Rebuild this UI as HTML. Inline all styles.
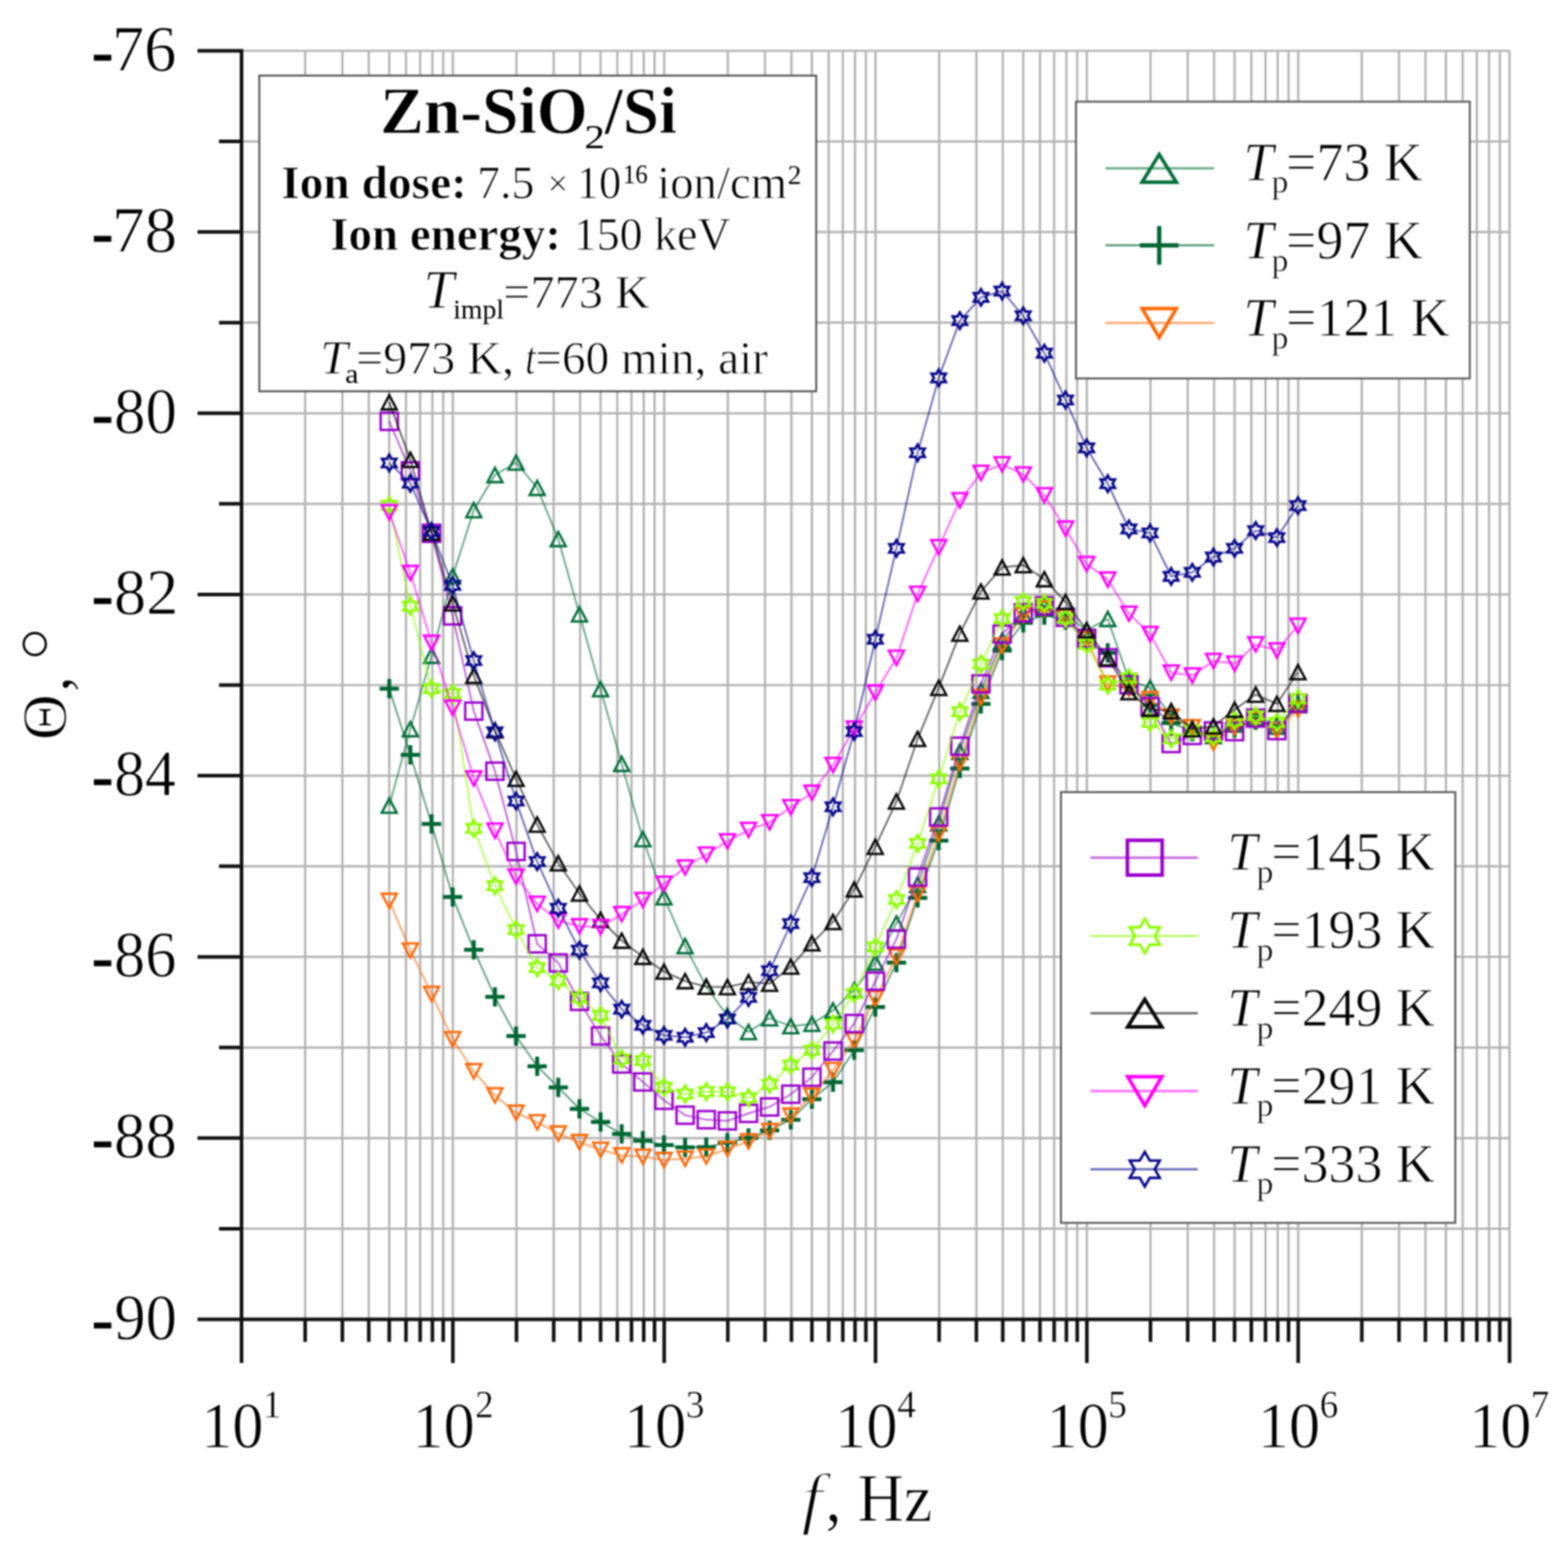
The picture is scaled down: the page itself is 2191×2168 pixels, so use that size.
<!DOCTYPE html>
<html><head><meta charset="utf-8"><title>Zn-SiO2/Si phase angle vs frequency</title>
<style>html,body{margin:0;padding:0;background:#fff;overflow:hidden;} svg{display:block;} #fig{width:2191px;height:2168px;filter:blur(1px);}</style>
</head><body><div id="fig">
<svg width="2191" height="2168" viewBox="0 0 2191 2168">
<rect width="2191" height="2168" fill="#fff"/>
<path d="M426.4,71.0V1843.0M478.4,71.0V1843.0M515.3,71.0V1843.0M543.9,71.0V1843.0M567.3,71.0V1843.0M587.1,71.0V1843.0M604.2,71.0V1843.0M619.3,71.0V1843.0M632.8,71.0V1843.0M721.7,71.0V1843.0M773.7,71.0V1843.0M810.6,71.0V1843.0M839.2,71.0V1843.0M862.6,71.0V1843.0M882.4,71.0V1843.0M899.5,71.0V1843.0M914.6,71.0V1843.0M928.1,71.0V1843.0M1017.0,71.0V1843.0M1069.0,71.0V1843.0M1105.9,71.0V1843.0M1134.5,71.0V1843.0M1157.9,71.0V1843.0M1177.7,71.0V1843.0M1194.8,71.0V1843.0M1209.9,71.0V1843.0M1223.4,71.0V1843.0M1312.3,71.0V1843.0M1364.3,71.0V1843.0M1401.2,71.0V1843.0M1429.8,71.0V1843.0M1453.2,71.0V1843.0M1473.0,71.0V1843.0M1490.1,71.0V1843.0M1505.2,71.0V1843.0M1518.7,71.0V1843.0M1607.6,71.0V1843.0M1659.6,71.0V1843.0M1696.5,71.0V1843.0M1725.1,71.0V1843.0M1748.5,71.0V1843.0M1768.3,71.0V1843.0M1785.4,71.0V1843.0M1800.5,71.0V1843.0M1814.0,71.0V1843.0M1902.9,71.0V1843.0M1954.9,71.0V1843.0M1991.8,71.0V1843.0M2020.4,71.0V1843.0M2043.8,71.0V1843.0M2063.6,71.0V1843.0M2080.7,71.0V1843.0M2095.8,71.0V1843.0M2109.3,71.0V1843.0M337.5,71.0H2109.3M337.5,197.6H2109.3M337.5,324.1H2109.3M337.5,450.7H2109.3M337.5,577.3H2109.3M337.5,703.8H2109.3M337.5,830.4H2109.3M337.5,957.0H2109.3M337.5,1083.6H2109.3M337.5,1210.1H2109.3M337.5,1336.7H2109.3M337.5,1463.3H2109.3M337.5,1589.8H2109.3M337.5,1716.4H2109.3" stroke="#b4b4b4" stroke-width="3.2" fill="none"/>
<polyline points="543.9,1125.4 573.4,1018.5 603.0,916.0 632.5,805.0 662.0,712.6 691.6,663.5 721.1,646.2 750.6,681.5 780.1,753.0 809.7,858.2 839.2,962.7 868.7,1067.0 898.3,1172.1 927.8,1253.4 957.3,1321.5 986.9,1378.4 1016.4,1418.9 1045.9,1441.6 1075.4,1422.3 1105.0,1433.4 1134.5,1430.2 1164.0,1411.4 1193.6,1383.0 1223.1,1344.7 1252.6,1290.0 1282.2,1236.0 1311.7,1150.0 1341.2,1050.0 1370.7,965.0 1400.3,895.0 1429.8,858.0 1459.3,848.0 1488.9,860.0 1518.4,880.0 1547.9,864.5 1577.5,950.0 1607.0,960.7 1636.5,1000.0 1666.0,1018.0 1695.6,1028.0 1725.1,1012.0 1754.6,1003.0 1784.2,1015.0 1813.7,985.0" fill="none" stroke="#05703c" stroke-opacity="0.6" stroke-width="2.5" stroke-linejoin="round"/>
<g><polygon points="543.9,1115.4 554.4,1135.4 533.4,1135.4" fill="none" stroke="#05703c" stroke-width="3.3" stroke-linejoin="miter"/><polygon points="573.4,1008.5 583.9,1028.5 562.9,1028.5" fill="none" stroke="#05703c" stroke-width="3.3" stroke-linejoin="miter"/><polygon points="603.0,906.0 613.5,926.0 592.5,926.0" fill="none" stroke="#05703c" stroke-width="3.3" stroke-linejoin="miter"/><polygon points="632.5,795.0 643.0,815.0 622.0,815.0" fill="none" stroke="#05703c" stroke-width="3.3" stroke-linejoin="miter"/><polygon points="662.0,702.6 672.5,722.6 651.5,722.6" fill="none" stroke="#05703c" stroke-width="3.3" stroke-linejoin="miter"/><polygon points="691.6,653.5 702.1,673.5 681.1,673.5" fill="none" stroke="#05703c" stroke-width="3.3" stroke-linejoin="miter"/><polygon points="721.1,636.2 731.6,656.2 710.6,656.2" fill="none" stroke="#05703c" stroke-width="3.3" stroke-linejoin="miter"/><polygon points="750.6,671.5 761.1,691.5 740.1,691.5" fill="none" stroke="#05703c" stroke-width="3.3" stroke-linejoin="miter"/><polygon points="780.1,743.0 790.6,763.0 769.6,763.0" fill="none" stroke="#05703c" stroke-width="3.3" stroke-linejoin="miter"/><polygon points="809.7,848.2 820.2,868.2 799.2,868.2" fill="none" stroke="#05703c" stroke-width="3.3" stroke-linejoin="miter"/><polygon points="839.2,952.7 849.7,972.7 828.7,972.7" fill="none" stroke="#05703c" stroke-width="3.3" stroke-linejoin="miter"/><polygon points="868.7,1057.0 879.2,1077.0 858.2,1077.0" fill="none" stroke="#05703c" stroke-width="3.3" stroke-linejoin="miter"/><polygon points="898.3,1162.1 908.8,1182.1 887.8,1182.1" fill="none" stroke="#05703c" stroke-width="3.3" stroke-linejoin="miter"/><polygon points="927.8,1243.4 938.3,1263.4 917.3,1263.4" fill="none" stroke="#05703c" stroke-width="3.3" stroke-linejoin="miter"/><polygon points="957.3,1311.5 967.8,1331.5 946.8,1331.5" fill="none" stroke="#05703c" stroke-width="3.3" stroke-linejoin="miter"/><polygon points="986.9,1368.4 997.4,1388.4 976.4,1388.4" fill="none" stroke="#05703c" stroke-width="3.3" stroke-linejoin="miter"/><polygon points="1016.4,1408.9 1026.9,1428.9 1005.9,1428.9" fill="none" stroke="#05703c" stroke-width="3.3" stroke-linejoin="miter"/><polygon points="1045.9,1431.6 1056.4,1451.6 1035.4,1451.6" fill="none" stroke="#05703c" stroke-width="3.3" stroke-linejoin="miter"/><polygon points="1075.4,1412.3 1085.9,1432.3 1064.9,1432.3" fill="none" stroke="#05703c" stroke-width="3.3" stroke-linejoin="miter"/><polygon points="1105.0,1423.4 1115.5,1443.4 1094.5,1443.4" fill="none" stroke="#05703c" stroke-width="3.3" stroke-linejoin="miter"/><polygon points="1134.5,1420.2 1145.0,1440.2 1124.0,1440.2" fill="none" stroke="#05703c" stroke-width="3.3" stroke-linejoin="miter"/><polygon points="1164.0,1401.4 1174.5,1421.4 1153.5,1421.4" fill="none" stroke="#05703c" stroke-width="3.3" stroke-linejoin="miter"/><polygon points="1193.6,1373.0 1204.1,1393.0 1183.1,1393.0" fill="none" stroke="#05703c" stroke-width="3.3" stroke-linejoin="miter"/><polygon points="1223.1,1334.7 1233.6,1354.7 1212.6,1354.7" fill="none" stroke="#05703c" stroke-width="3.3" stroke-linejoin="miter"/><polygon points="1252.6,1280.0 1263.1,1300.0 1242.1,1300.0" fill="none" stroke="#05703c" stroke-width="3.3" stroke-linejoin="miter"/><polygon points="1282.2,1226.0 1292.7,1246.0 1271.7,1246.0" fill="none" stroke="#05703c" stroke-width="3.3" stroke-linejoin="miter"/><polygon points="1311.7,1140.0 1322.2,1160.0 1301.2,1160.0" fill="none" stroke="#05703c" stroke-width="3.3" stroke-linejoin="miter"/><polygon points="1341.2,1040.0 1351.7,1060.0 1330.7,1060.0" fill="none" stroke="#05703c" stroke-width="3.3" stroke-linejoin="miter"/><polygon points="1370.7,955.0 1381.2,975.0 1360.2,975.0" fill="none" stroke="#05703c" stroke-width="3.3" stroke-linejoin="miter"/><polygon points="1400.3,885.0 1410.8,905.0 1389.8,905.0" fill="none" stroke="#05703c" stroke-width="3.3" stroke-linejoin="miter"/><polygon points="1429.8,848.0 1440.3,868.0 1419.3,868.0" fill="none" stroke="#05703c" stroke-width="3.3" stroke-linejoin="miter"/><polygon points="1459.3,838.0 1469.8,858.0 1448.8,858.0" fill="none" stroke="#05703c" stroke-width="3.3" stroke-linejoin="miter"/><polygon points="1488.9,850.0 1499.4,870.0 1478.4,870.0" fill="none" stroke="#05703c" stroke-width="3.3" stroke-linejoin="miter"/><polygon points="1518.4,870.0 1528.9,890.0 1507.9,890.0" fill="none" stroke="#05703c" stroke-width="3.3" stroke-linejoin="miter"/><polygon points="1547.9,854.5 1558.4,874.5 1537.4,874.5" fill="none" stroke="#05703c" stroke-width="3.3" stroke-linejoin="miter"/><polygon points="1577.5,940.0 1588.0,960.0 1567.0,960.0" fill="none" stroke="#05703c" stroke-width="3.3" stroke-linejoin="miter"/><polygon points="1607.0,950.7 1617.5,970.7 1596.5,970.7" fill="none" stroke="#05703c" stroke-width="3.3" stroke-linejoin="miter"/><polygon points="1636.5,990.0 1647.0,1010.0 1626.0,1010.0" fill="none" stroke="#05703c" stroke-width="3.3" stroke-linejoin="miter"/><polygon points="1666.0,1008.0 1676.5,1028.0 1655.5,1028.0" fill="none" stroke="#05703c" stroke-width="3.3" stroke-linejoin="miter"/><polygon points="1695.6,1018.0 1706.1,1038.0 1685.1,1038.0" fill="none" stroke="#05703c" stroke-width="3.3" stroke-linejoin="miter"/><polygon points="1725.1,1002.0 1735.6,1022.0 1714.6,1022.0" fill="none" stroke="#05703c" stroke-width="3.3" stroke-linejoin="miter"/><polygon points="1754.6,993.0 1765.1,1013.0 1744.1,1013.0" fill="none" stroke="#05703c" stroke-width="3.3" stroke-linejoin="miter"/><polygon points="1784.2,1005.0 1794.7,1025.0 1773.7,1025.0" fill="none" stroke="#05703c" stroke-width="3.3" stroke-linejoin="miter"/><polygon points="1813.7,975.0 1824.2,995.0 1803.2,995.0" fill="none" stroke="#05703c" stroke-width="3.3" stroke-linejoin="miter"/></g>
<polyline points="543.9,962.0 573.4,1054.6 603.0,1151.0 632.5,1253.0 662.0,1326.7 691.6,1392.6 721.1,1447.2 750.6,1489.4 780.1,1518.9 809.7,1549.0 839.2,1567.3 868.7,1584.1 898.3,1593.5 927.8,1599.6 957.3,1602.8 986.9,1602.4 1016.4,1596.0 1045.9,1589.7 1075.4,1579.0 1105.0,1564.2 1134.5,1535.4 1164.0,1511.8 1193.6,1467.1 1223.1,1406.7 1252.6,1344.7 1282.2,1254.2 1311.7,1174.2 1341.2,1073.4 1370.7,983.2 1400.3,908.7 1429.8,870.0 1459.3,859.2 1488.9,866.0 1518.4,896.0 1547.9,912.0 1577.5,958.0 1607.0,985.0 1636.5,1010.0 1666.0,1022.0 1695.6,1028.0 1725.1,1017.0 1754.6,1006.0 1784.2,1016.0 1813.7,986.0" fill="none" stroke="#006633" stroke-opacity="0.6" stroke-width="2.5" stroke-linejoin="round"/>
<g><path d="M530.4,962.0H557.4M543.9,948.5V975.5" stroke="#006633" stroke-width="5.5"/><path d="M559.9,1054.6H586.9M573.4,1041.1V1068.1" stroke="#006633" stroke-width="5.5"/><path d="M589.5,1151.0H616.5M603.0,1137.5V1164.5" stroke="#006633" stroke-width="5.5"/><path d="M619.0,1253.0H646.0M632.5,1239.5V1266.5" stroke="#006633" stroke-width="5.5"/><path d="M648.5,1326.7H675.5M662.0,1313.2V1340.2" stroke="#006633" stroke-width="5.5"/><path d="M678.1,1392.6H705.1M691.6,1379.1V1406.1" stroke="#006633" stroke-width="5.5"/><path d="M707.6,1447.2H734.6M721.1,1433.7V1460.7" stroke="#006633" stroke-width="5.5"/><path d="M737.1,1489.4H764.1M750.6,1475.9V1502.9" stroke="#006633" stroke-width="5.5"/><path d="M766.6,1518.9H793.6M780.1,1505.4V1532.4" stroke="#006633" stroke-width="5.5"/><path d="M796.2,1549.0H823.2M809.7,1535.5V1562.5" stroke="#006633" stroke-width="5.5"/><path d="M825.7,1567.3H852.7M839.2,1553.8V1580.8" stroke="#006633" stroke-width="5.5"/><path d="M855.2,1584.1H882.2M868.7,1570.6V1597.6" stroke="#006633" stroke-width="5.5"/><path d="M884.8,1593.5H911.8M898.3,1580.0V1607.0" stroke="#006633" stroke-width="5.5"/><path d="M914.3,1599.6H941.3M927.8,1586.1V1613.1" stroke="#006633" stroke-width="5.5"/><path d="M943.8,1602.8H970.8M957.3,1589.3V1616.3" stroke="#006633" stroke-width="5.5"/><path d="M973.4,1602.4H1000.4M986.9,1588.9V1615.9" stroke="#006633" stroke-width="5.5"/><path d="M1002.9,1596.0H1029.9M1016.4,1582.5V1609.5" stroke="#006633" stroke-width="5.5"/><path d="M1032.4,1589.7H1059.4M1045.9,1576.2V1603.2" stroke="#006633" stroke-width="5.5"/><path d="M1061.9,1579.0H1088.9M1075.4,1565.5V1592.5" stroke="#006633" stroke-width="5.5"/><path d="M1091.5,1564.2H1118.5M1105.0,1550.7V1577.7" stroke="#006633" stroke-width="5.5"/><path d="M1121.0,1535.4H1148.0M1134.5,1521.9V1548.9" stroke="#006633" stroke-width="5.5"/><path d="M1150.5,1511.8H1177.5M1164.0,1498.3V1525.3" stroke="#006633" stroke-width="5.5"/><path d="M1180.1,1467.1H1207.1M1193.6,1453.6V1480.6" stroke="#006633" stroke-width="5.5"/><path d="M1209.6,1406.7H1236.6M1223.1,1393.2V1420.2" stroke="#006633" stroke-width="5.5"/><path d="M1239.1,1344.7H1266.1M1252.6,1331.2V1358.2" stroke="#006633" stroke-width="5.5"/><path d="M1268.7,1254.2H1295.7M1282.2,1240.7V1267.7" stroke="#006633" stroke-width="5.5"/><path d="M1298.2,1174.2H1325.2M1311.7,1160.7V1187.7" stroke="#006633" stroke-width="5.5"/><path d="M1327.7,1073.4H1354.7M1341.2,1059.9V1086.9" stroke="#006633" stroke-width="5.5"/><path d="M1357.2,983.2H1384.2M1370.7,969.7V996.7" stroke="#006633" stroke-width="5.5"/><path d="M1386.8,908.7H1413.8M1400.3,895.2V922.2" stroke="#006633" stroke-width="5.5"/><path d="M1416.3,870.0H1443.3M1429.8,856.5V883.5" stroke="#006633" stroke-width="5.5"/><path d="M1445.8,859.2H1472.8M1459.3,845.7V872.7" stroke="#006633" stroke-width="5.5"/><path d="M1475.4,866.0H1502.4M1488.9,852.5V879.5" stroke="#006633" stroke-width="5.5"/><path d="M1504.9,896.0H1531.9M1518.4,882.5V909.5" stroke="#006633" stroke-width="5.5"/><path d="M1534.4,912.0H1561.4M1547.9,898.5V925.5" stroke="#006633" stroke-width="5.5"/><path d="M1564.0,958.0H1591.0M1577.5,944.5V971.5" stroke="#006633" stroke-width="5.5"/><path d="M1593.5,985.0H1620.5M1607.0,971.5V998.5" stroke="#006633" stroke-width="5.5"/><path d="M1623.0,1010.0H1650.0M1636.5,996.5V1023.5" stroke="#006633" stroke-width="5.5"/><path d="M1652.5,1022.0H1679.5M1666.0,1008.5V1035.5" stroke="#006633" stroke-width="5.5"/><path d="M1682.1,1028.0H1709.1M1695.6,1014.5V1041.5" stroke="#006633" stroke-width="5.5"/><path d="M1711.6,1017.0H1738.6M1725.1,1003.5V1030.5" stroke="#006633" stroke-width="5.5"/><path d="M1741.1,1006.0H1768.1M1754.6,992.5V1019.5" stroke="#006633" stroke-width="5.5"/><path d="M1770.7,1016.0H1797.7M1784.2,1002.5V1029.5" stroke="#006633" stroke-width="5.5"/><path d="M1800.2,986.0H1827.2M1813.7,972.5V999.5" stroke="#006633" stroke-width="5.5"/></g>
<polyline points="543.9,1258.5 573.4,1327.8 603.0,1388.3 632.5,1451.7 662.0,1496.4 691.6,1530.2 721.1,1554.5 750.6,1567.8 780.1,1583.5 809.7,1595.5 839.2,1606.2 868.7,1614.0 898.3,1615.8 927.8,1620.5 957.3,1618.6 986.9,1615.5 1016.4,1605.0 1045.9,1594.5 1075.4,1580.0 1105.0,1558.5 1134.5,1530.7 1164.0,1494.9 1193.6,1453.0 1223.1,1394.5 1252.6,1336.4 1282.2,1248.7 1311.7,1164.3 1341.2,1065.1 1370.7,974.0 1400.3,901.6 1429.8,859.0 1459.3,850.0 1488.9,862.0 1518.4,893.0 1547.9,955.0 1577.5,962.0 1607.0,976.5 1636.5,1001.1 1666.0,1016.0 1695.6,1037.4 1725.1,1016.0 1754.6,1005.0 1784.2,1020.0 1813.7,991.0" fill="none" stroke="#ff6a0a" stroke-opacity="0.6" stroke-width="2.5" stroke-linejoin="round"/>
<g><polygon points="533.4,1248.5 554.4,1248.5 543.9,1268.5" fill="none" stroke="#ff6a0a" stroke-width="3.3"/><polygon points="562.9,1317.8 583.9,1317.8 573.4,1337.8" fill="none" stroke="#ff6a0a" stroke-width="3.3"/><polygon points="592.5,1378.3 613.5,1378.3 603.0,1398.3" fill="none" stroke="#ff6a0a" stroke-width="3.3"/><polygon points="622.0,1441.7 643.0,1441.7 632.5,1461.7" fill="none" stroke="#ff6a0a" stroke-width="3.3"/><polygon points="651.5,1486.4 672.5,1486.4 662.0,1506.4" fill="none" stroke="#ff6a0a" stroke-width="3.3"/><polygon points="681.1,1520.2 702.1,1520.2 691.6,1540.2" fill="none" stroke="#ff6a0a" stroke-width="3.3"/><polygon points="710.6,1544.5 731.6,1544.5 721.1,1564.5" fill="none" stroke="#ff6a0a" stroke-width="3.3"/><polygon points="740.1,1557.8 761.1,1557.8 750.6,1577.8" fill="none" stroke="#ff6a0a" stroke-width="3.3"/><polygon points="769.6,1573.5 790.6,1573.5 780.1,1593.5" fill="none" stroke="#ff6a0a" stroke-width="3.3"/><polygon points="799.2,1585.5 820.2,1585.5 809.7,1605.5" fill="none" stroke="#ff6a0a" stroke-width="3.3"/><polygon points="828.7,1596.2 849.7,1596.2 839.2,1616.2" fill="none" stroke="#ff6a0a" stroke-width="3.3"/><polygon points="858.2,1604.0 879.2,1604.0 868.7,1624.0" fill="none" stroke="#ff6a0a" stroke-width="3.3"/><polygon points="887.8,1605.8 908.8,1605.8 898.3,1625.8" fill="none" stroke="#ff6a0a" stroke-width="3.3"/><polygon points="917.3,1610.5 938.3,1610.5 927.8,1630.5" fill="none" stroke="#ff6a0a" stroke-width="3.3"/><polygon points="946.8,1608.6 967.8,1608.6 957.3,1628.6" fill="none" stroke="#ff6a0a" stroke-width="3.3"/><polygon points="976.4,1605.5 997.4,1605.5 986.9,1625.5" fill="none" stroke="#ff6a0a" stroke-width="3.3"/><polygon points="1005.9,1595.0 1026.9,1595.0 1016.4,1615.0" fill="none" stroke="#ff6a0a" stroke-width="3.3"/><polygon points="1035.4,1584.5 1056.4,1584.5 1045.9,1604.5" fill="none" stroke="#ff6a0a" stroke-width="3.3"/><polygon points="1064.9,1570.0 1085.9,1570.0 1075.4,1590.0" fill="none" stroke="#ff6a0a" stroke-width="3.3"/><polygon points="1094.5,1548.5 1115.5,1548.5 1105.0,1568.5" fill="none" stroke="#ff6a0a" stroke-width="3.3"/><polygon points="1124.0,1520.7 1145.0,1520.7 1134.5,1540.7" fill="none" stroke="#ff6a0a" stroke-width="3.3"/><polygon points="1153.5,1484.9 1174.5,1484.9 1164.0,1504.9" fill="none" stroke="#ff6a0a" stroke-width="3.3"/><polygon points="1183.1,1443.0 1204.1,1443.0 1193.6,1463.0" fill="none" stroke="#ff6a0a" stroke-width="3.3"/><polygon points="1212.6,1384.5 1233.6,1384.5 1223.1,1404.5" fill="none" stroke="#ff6a0a" stroke-width="3.3"/><polygon points="1242.1,1326.4 1263.1,1326.4 1252.6,1346.4" fill="none" stroke="#ff6a0a" stroke-width="3.3"/><polygon points="1271.7,1238.7 1292.7,1238.7 1282.2,1258.7" fill="none" stroke="#ff6a0a" stroke-width="3.3"/><polygon points="1301.2,1154.3 1322.2,1154.3 1311.7,1174.3" fill="none" stroke="#ff6a0a" stroke-width="3.3"/><polygon points="1330.7,1055.1 1351.7,1055.1 1341.2,1075.1" fill="none" stroke="#ff6a0a" stroke-width="3.3"/><polygon points="1360.2,964.0 1381.2,964.0 1370.7,984.0" fill="none" stroke="#ff6a0a" stroke-width="3.3"/><polygon points="1389.8,891.6 1410.8,891.6 1400.3,911.6" fill="none" stroke="#ff6a0a" stroke-width="3.3"/><polygon points="1419.3,849.0 1440.3,849.0 1429.8,869.0" fill="none" stroke="#ff6a0a" stroke-width="3.3"/><polygon points="1448.8,840.0 1469.8,840.0 1459.3,860.0" fill="none" stroke="#ff6a0a" stroke-width="3.3"/><polygon points="1478.4,852.0 1499.4,852.0 1488.9,872.0" fill="none" stroke="#ff6a0a" stroke-width="3.3"/><polygon points="1507.9,883.0 1528.9,883.0 1518.4,903.0" fill="none" stroke="#ff6a0a" stroke-width="3.3"/><polygon points="1537.4,945.0 1558.4,945.0 1547.9,965.0" fill="none" stroke="#ff6a0a" stroke-width="3.3"/><polygon points="1567.0,952.0 1588.0,952.0 1577.5,972.0" fill="none" stroke="#ff6a0a" stroke-width="3.3"/><polygon points="1596.5,966.5 1617.5,966.5 1607.0,986.5" fill="none" stroke="#ff6a0a" stroke-width="3.3"/><polygon points="1626.0,991.1 1647.0,991.1 1636.5,1011.1" fill="none" stroke="#ff6a0a" stroke-width="3.3"/><polygon points="1655.5,1006.0 1676.5,1006.0 1666.0,1026.0" fill="none" stroke="#ff6a0a" stroke-width="3.3"/><polygon points="1685.1,1027.4 1706.1,1027.4 1695.6,1047.4" fill="none" stroke="#ff6a0a" stroke-width="3.3"/><polygon points="1714.6,1006.0 1735.6,1006.0 1725.1,1026.0" fill="none" stroke="#ff6a0a" stroke-width="3.3"/><polygon points="1744.1,995.0 1765.1,995.0 1754.6,1015.0" fill="none" stroke="#ff6a0a" stroke-width="3.3"/><polygon points="1773.7,1010.0 1794.7,1010.0 1784.2,1030.0" fill="none" stroke="#ff6a0a" stroke-width="3.3"/><polygon points="1803.2,981.0 1824.2,981.0 1813.7,1001.0" fill="none" stroke="#ff6a0a" stroke-width="3.3"/></g>
<polyline points="543.9,588.6 573.4,657.7 603.0,745.0 632.5,860.3 662.0,993.4 691.6,1077.3 721.1,1189.4 750.6,1318.4 780.1,1345.1 809.7,1398.8 839.2,1447.1 868.7,1486.3 898.3,1511.4 927.8,1537.0 957.3,1557.8 986.9,1564.1 1016.4,1565.8 1045.9,1555.3 1075.4,1546.3 1105.0,1528.5 1134.5,1504.8 1164.0,1468.2 1193.6,1429.8 1223.1,1370.6 1252.6,1311.8 1282.2,1225.2 1311.7,1141.2 1341.2,1042.4 1370.7,955.3 1400.3,885.9 1429.8,856.1 1459.3,846.2 1488.9,862.4 1518.4,891.7 1547.9,918.9 1577.5,956.5 1607.0,987.0 1636.5,1038.6 1666.0,1027.4 1695.6,1021.0 1725.1,1022.0 1754.6,1003.1 1784.2,1020.6 1813.7,982.3" fill="none" stroke="#9a00cc" stroke-opacity="0.6" stroke-width="2.5" stroke-linejoin="round"/>
<g><rect x="531.9" y="576.6" width="24.0" height="24.0" fill="none" stroke="#9a00cc" stroke-width="3.3"/><rect x="561.4" y="645.7" width="24.0" height="24.0" fill="none" stroke="#9a00cc" stroke-width="3.3"/><rect x="591.0" y="733.0" width="24.0" height="24.0" fill="none" stroke="#9a00cc" stroke-width="3.3"/><rect x="620.5" y="848.3" width="24.0" height="24.0" fill="none" stroke="#9a00cc" stroke-width="3.3"/><rect x="650.0" y="981.4" width="24.0" height="24.0" fill="none" stroke="#9a00cc" stroke-width="3.3"/><rect x="679.6" y="1065.3" width="24.0" height="24.0" fill="none" stroke="#9a00cc" stroke-width="3.3"/><rect x="709.1" y="1177.4" width="24.0" height="24.0" fill="none" stroke="#9a00cc" stroke-width="3.3"/><rect x="738.6" y="1306.4" width="24.0" height="24.0" fill="none" stroke="#9a00cc" stroke-width="3.3"/><rect x="768.1" y="1333.1" width="24.0" height="24.0" fill="none" stroke="#9a00cc" stroke-width="3.3"/><rect x="797.7" y="1386.8" width="24.0" height="24.0" fill="none" stroke="#9a00cc" stroke-width="3.3"/><rect x="827.2" y="1435.1" width="24.0" height="24.0" fill="none" stroke="#9a00cc" stroke-width="3.3"/><rect x="856.7" y="1474.3" width="24.0" height="24.0" fill="none" stroke="#9a00cc" stroke-width="3.3"/><rect x="886.3" y="1499.4" width="24.0" height="24.0" fill="none" stroke="#9a00cc" stroke-width="3.3"/><rect x="915.8" y="1525.0" width="24.0" height="24.0" fill="none" stroke="#9a00cc" stroke-width="3.3"/><rect x="945.3" y="1545.8" width="24.0" height="24.0" fill="none" stroke="#9a00cc" stroke-width="3.3"/><rect x="974.9" y="1552.1" width="24.0" height="24.0" fill="none" stroke="#9a00cc" stroke-width="3.3"/><rect x="1004.4" y="1553.8" width="24.0" height="24.0" fill="none" stroke="#9a00cc" stroke-width="3.3"/><rect x="1033.9" y="1543.3" width="24.0" height="24.0" fill="none" stroke="#9a00cc" stroke-width="3.3"/><rect x="1063.4" y="1534.3" width="24.0" height="24.0" fill="none" stroke="#9a00cc" stroke-width="3.3"/><rect x="1093.0" y="1516.5" width="24.0" height="24.0" fill="none" stroke="#9a00cc" stroke-width="3.3"/><rect x="1122.5" y="1492.8" width="24.0" height="24.0" fill="none" stroke="#9a00cc" stroke-width="3.3"/><rect x="1152.0" y="1456.2" width="24.0" height="24.0" fill="none" stroke="#9a00cc" stroke-width="3.3"/><rect x="1181.6" y="1417.8" width="24.0" height="24.0" fill="none" stroke="#9a00cc" stroke-width="3.3"/><rect x="1211.1" y="1358.6" width="24.0" height="24.0" fill="none" stroke="#9a00cc" stroke-width="3.3"/><rect x="1240.6" y="1299.8" width="24.0" height="24.0" fill="none" stroke="#9a00cc" stroke-width="3.3"/><rect x="1270.2" y="1213.2" width="24.0" height="24.0" fill="none" stroke="#9a00cc" stroke-width="3.3"/><rect x="1299.7" y="1129.2" width="24.0" height="24.0" fill="none" stroke="#9a00cc" stroke-width="3.3"/><rect x="1329.2" y="1030.4" width="24.0" height="24.0" fill="none" stroke="#9a00cc" stroke-width="3.3"/><rect x="1358.7" y="943.3" width="24.0" height="24.0" fill="none" stroke="#9a00cc" stroke-width="3.3"/><rect x="1388.3" y="873.9" width="24.0" height="24.0" fill="none" stroke="#9a00cc" stroke-width="3.3"/><rect x="1417.8" y="844.1" width="24.0" height="24.0" fill="none" stroke="#9a00cc" stroke-width="3.3"/><rect x="1447.3" y="834.2" width="24.0" height="24.0" fill="none" stroke="#9a00cc" stroke-width="3.3"/><rect x="1476.9" y="850.4" width="24.0" height="24.0" fill="none" stroke="#9a00cc" stroke-width="3.3"/><rect x="1506.4" y="879.7" width="24.0" height="24.0" fill="none" stroke="#9a00cc" stroke-width="3.3"/><rect x="1535.9" y="906.9" width="24.0" height="24.0" fill="none" stroke="#9a00cc" stroke-width="3.3"/><rect x="1565.5" y="944.5" width="24.0" height="24.0" fill="none" stroke="#9a00cc" stroke-width="3.3"/><rect x="1595.0" y="975.0" width="24.0" height="24.0" fill="none" stroke="#9a00cc" stroke-width="3.3"/><rect x="1624.5" y="1026.6" width="24.0" height="24.0" fill="none" stroke="#9a00cc" stroke-width="3.3"/><rect x="1654.0" y="1015.4" width="24.0" height="24.0" fill="none" stroke="#9a00cc" stroke-width="3.3"/><rect x="1683.6" y="1009.0" width="24.0" height="24.0" fill="none" stroke="#9a00cc" stroke-width="3.3"/><rect x="1713.1" y="1010.0" width="24.0" height="24.0" fill="none" stroke="#9a00cc" stroke-width="3.3"/><rect x="1742.6" y="991.1" width="24.0" height="24.0" fill="none" stroke="#9a00cc" stroke-width="3.3"/><rect x="1772.2" y="1008.6" width="24.0" height="24.0" fill="none" stroke="#9a00cc" stroke-width="3.3"/><rect x="1801.7" y="970.3" width="24.0" height="24.0" fill="none" stroke="#9a00cc" stroke-width="3.3"/></g>
<polyline points="543.9,706.0 573.4,846.7 603.0,962.0 632.5,969.0 662.0,1157.3 691.6,1237.3 721.1,1298.5 750.6,1351.8 780.1,1369.9 809.7,1394.0 839.2,1418.4 868.7,1479.3 898.3,1481.6 927.8,1518.8 957.3,1528.2 986.9,1524.8 1016.4,1525.1 1045.9,1533.4 1075.4,1514.6 1105.0,1487.7 1134.5,1467.1 1164.0,1430.2 1193.6,1387.9 1223.1,1322.8 1252.6,1256.6 1282.2,1178.1 1311.7,1087.9 1341.2,994.2 1370.7,927.5 1400.3,864.2 1429.8,840.4 1459.3,842.8 1488.9,863.5 1518.4,900.0 1547.9,957.0 1577.5,947.0 1607.0,1009.0 1636.5,1032.0 1666.0,1020.0 1695.6,1029.4 1725.1,1006.5 1754.6,999.8 1784.2,1009.2 1813.7,976.2" fill="none" stroke="#8cff00" stroke-opacity="0.6" stroke-width="2.5" stroke-linejoin="round"/>
<g><polygon points="543.9,694.5 547.2,700.2 553.9,700.2 550.5,706.0 553.9,711.8 547.2,711.8 543.9,717.5 540.6,711.8 533.9,711.8 537.3,706.0 533.9,700.2 540.6,700.2" fill="none" stroke="#8cff00" stroke-width="3.6"/><polygon points="573.4,835.2 576.8,841.0 583.4,841.0 580.1,846.7 583.4,852.5 576.8,852.5 573.4,858.2 570.1,852.5 563.5,852.5 566.8,846.7 563.5,841.0 570.1,841.0" fill="none" stroke="#8cff00" stroke-width="3.6"/><polygon points="603.0,950.5 606.3,956.2 612.9,956.2 609.6,962.0 612.9,967.8 606.3,967.8 603.0,973.5 599.6,967.8 593.0,967.8 596.3,962.0 593.0,956.2 599.6,956.2" fill="none" stroke="#8cff00" stroke-width="3.6"/><polygon points="632.5,957.5 635.8,963.2 642.5,963.2 639.1,969.0 642.5,974.8 635.8,974.8 632.5,980.5 629.2,974.8 622.5,974.8 625.9,969.0 622.5,963.2 629.2,963.2" fill="none" stroke="#8cff00" stroke-width="3.6"/><polygon points="662.0,1145.8 665.3,1151.5 672.0,1151.5 668.7,1157.3 672.0,1163.0 665.3,1163.0 662.0,1168.8 658.7,1163.0 652.1,1163.0 655.4,1157.3 652.1,1151.5 658.7,1151.5" fill="none" stroke="#8cff00" stroke-width="3.6"/><polygon points="691.6,1225.8 694.9,1231.5 701.5,1231.5 698.2,1237.3 701.5,1243.0 694.9,1243.0 691.6,1248.8 688.2,1243.0 681.6,1243.0 684.9,1237.3 681.6,1231.5 688.2,1231.5" fill="none" stroke="#8cff00" stroke-width="3.6"/><polygon points="721.1,1287.0 724.4,1292.8 731.0,1292.8 727.7,1298.5 731.0,1304.2 724.4,1304.2 721.1,1310.0 717.8,1304.2 711.1,1304.2 714.4,1298.5 711.1,1292.8 717.8,1292.8" fill="none" stroke="#8cff00" stroke-width="3.6"/><polygon points="750.6,1340.3 753.9,1346.0 760.6,1346.0 757.3,1351.8 760.6,1357.5 753.9,1357.5 750.6,1363.3 747.3,1357.5 740.7,1357.5 744.0,1351.8 740.7,1346.0 747.3,1346.0" fill="none" stroke="#8cff00" stroke-width="3.6"/><polygon points="780.1,1358.4 783.5,1364.2 790.1,1364.2 786.8,1369.9 790.1,1375.7 783.5,1375.7 780.1,1381.4 776.8,1375.7 770.2,1375.7 773.5,1369.9 770.2,1364.2 776.8,1364.2" fill="none" stroke="#8cff00" stroke-width="3.6"/><polygon points="809.7,1382.5 813.0,1388.2 819.6,1388.2 816.3,1394.0 819.6,1399.8 813.0,1399.8 809.7,1405.5 806.4,1399.8 799.7,1399.8 803.0,1394.0 799.7,1388.2 806.4,1388.2" fill="none" stroke="#8cff00" stroke-width="3.6"/><polygon points="839.2,1406.9 842.5,1412.7 849.2,1412.7 845.8,1418.4 849.2,1424.2 842.5,1424.2 839.2,1429.9 835.9,1424.2 829.2,1424.2 832.6,1418.4 829.2,1412.7 835.9,1412.7" fill="none" stroke="#8cff00" stroke-width="3.6"/><polygon points="868.7,1467.8 872.1,1473.5 878.7,1473.5 875.4,1479.3 878.7,1485.0 872.1,1485.0 868.7,1490.8 865.4,1485.0 858.8,1485.0 862.1,1479.3 858.8,1473.5 865.4,1473.5" fill="none" stroke="#8cff00" stroke-width="3.6"/><polygon points="898.3,1470.1 901.6,1475.8 908.2,1475.8 904.9,1481.6 908.2,1487.3 901.6,1487.3 898.3,1493.1 894.9,1487.3 888.3,1487.3 891.6,1481.6 888.3,1475.8 894.9,1475.8" fill="none" stroke="#8cff00" stroke-width="3.6"/><polygon points="927.8,1507.3 931.1,1513.0 937.8,1513.0 934.4,1518.8 937.8,1524.5 931.1,1524.5 927.8,1530.3 924.5,1524.5 917.8,1524.5 921.2,1518.8 917.8,1513.0 924.5,1513.0" fill="none" stroke="#8cff00" stroke-width="3.6"/><polygon points="957.3,1516.7 960.6,1522.5 967.3,1522.5 964.0,1528.2 967.3,1534.0 960.6,1534.0 957.3,1539.7 954.0,1534.0 947.4,1534.0 950.7,1528.2 947.4,1522.5 954.0,1522.5" fill="none" stroke="#8cff00" stroke-width="3.6"/><polygon points="986.9,1513.3 990.2,1519.0 996.8,1519.0 993.5,1524.8 996.8,1530.5 990.2,1530.5 986.9,1536.3 983.5,1530.5 976.9,1530.5 980.2,1524.8 976.9,1519.0 983.5,1519.0" fill="none" stroke="#8cff00" stroke-width="3.6"/><polygon points="1016.4,1513.6 1019.7,1519.3 1026.3,1519.3 1023.0,1525.1 1026.3,1530.8 1019.7,1530.8 1016.4,1536.6 1013.1,1530.8 1006.4,1530.8 1009.7,1525.1 1006.4,1519.3 1013.1,1519.3" fill="none" stroke="#8cff00" stroke-width="3.6"/><polygon points="1045.9,1521.9 1049.2,1527.7 1055.9,1527.7 1052.6,1533.4 1055.9,1539.2 1049.2,1539.2 1045.9,1544.9 1042.6,1539.2 1036.0,1539.2 1039.3,1533.4 1036.0,1527.7 1042.6,1527.7" fill="none" stroke="#8cff00" stroke-width="3.6"/><polygon points="1075.4,1503.1 1078.8,1508.8 1085.4,1508.8 1082.1,1514.6 1085.4,1520.3 1078.8,1520.3 1075.4,1526.1 1072.1,1520.3 1065.5,1520.3 1068.8,1514.6 1065.5,1508.8 1072.1,1508.8" fill="none" stroke="#8cff00" stroke-width="3.6"/><polygon points="1105.0,1476.2 1108.3,1482.0 1114.9,1482.0 1111.6,1487.7 1114.9,1493.5 1108.3,1493.5 1105.0,1499.2 1101.7,1493.5 1095.0,1493.5 1098.3,1487.7 1095.0,1482.0 1101.7,1482.0" fill="none" stroke="#8cff00" stroke-width="3.6"/><polygon points="1134.5,1455.6 1137.8,1461.3 1144.5,1461.3 1141.1,1467.1 1144.5,1472.8 1137.8,1472.8 1134.5,1478.6 1131.2,1472.8 1124.5,1472.8 1127.9,1467.1 1124.5,1461.3 1131.2,1461.3" fill="none" stroke="#8cff00" stroke-width="3.6"/><polygon points="1164.0,1418.7 1167.4,1424.5 1174.0,1424.5 1170.7,1430.2 1174.0,1436.0 1167.4,1436.0 1164.0,1441.7 1160.7,1436.0 1154.1,1436.0 1157.4,1430.2 1154.1,1424.5 1160.7,1424.5" fill="none" stroke="#8cff00" stroke-width="3.6"/><polygon points="1193.6,1376.4 1196.9,1382.2 1203.5,1382.2 1200.2,1387.9 1203.5,1393.7 1196.9,1393.7 1193.6,1399.4 1190.2,1393.7 1183.6,1393.7 1186.9,1387.9 1183.6,1382.2 1190.2,1382.2" fill="none" stroke="#8cff00" stroke-width="3.6"/><polygon points="1223.1,1311.3 1226.4,1317.0 1233.1,1317.0 1229.7,1322.8 1233.1,1328.5 1226.4,1328.5 1223.1,1334.3 1219.8,1328.5 1213.1,1328.5 1216.5,1322.8 1213.1,1317.0 1219.8,1317.0" fill="none" stroke="#8cff00" stroke-width="3.6"/><polygon points="1252.6,1245.1 1255.9,1250.8 1262.6,1250.8 1259.3,1256.6 1262.6,1262.3 1255.9,1262.3 1252.6,1268.1 1249.3,1262.3 1242.7,1262.3 1246.0,1256.6 1242.7,1250.8 1249.3,1250.8" fill="none" stroke="#8cff00" stroke-width="3.6"/><polygon points="1282.2,1166.6 1285.5,1172.3 1292.1,1172.3 1288.8,1178.1 1292.1,1183.8 1285.5,1183.8 1282.2,1189.6 1278.8,1183.8 1272.2,1183.8 1275.5,1178.1 1272.2,1172.3 1278.8,1172.3" fill="none" stroke="#8cff00" stroke-width="3.6"/><polygon points="1311.7,1076.4 1315.0,1082.2 1321.6,1082.2 1318.3,1087.9 1321.6,1093.7 1315.0,1093.7 1311.7,1099.4 1308.4,1093.7 1301.7,1093.7 1305.0,1087.9 1301.7,1082.2 1308.4,1082.2" fill="none" stroke="#8cff00" stroke-width="3.6"/><polygon points="1341.2,982.7 1344.5,988.5 1351.2,988.5 1347.9,994.2 1351.2,1000.0 1344.5,1000.0 1341.2,1005.7 1337.9,1000.0 1331.3,1000.0 1334.6,994.2 1331.3,988.5 1337.9,988.5" fill="none" stroke="#8cff00" stroke-width="3.6"/><polygon points="1370.7,916.0 1374.1,921.8 1380.7,921.8 1377.4,927.5 1380.7,933.2 1374.1,933.2 1370.7,939.0 1367.4,933.2 1360.8,933.2 1364.1,927.5 1360.8,921.8 1367.4,921.8" fill="none" stroke="#8cff00" stroke-width="3.6"/><polygon points="1400.3,852.7 1403.6,858.5 1410.2,858.5 1406.9,864.2 1410.2,870.0 1403.6,870.0 1400.3,875.7 1397.0,870.0 1390.3,870.0 1393.6,864.2 1390.3,858.5 1397.0,858.5" fill="none" stroke="#8cff00" stroke-width="3.6"/><polygon points="1429.8,828.9 1433.1,834.6 1439.8,834.6 1436.4,840.4 1439.8,846.1 1433.1,846.1 1429.8,851.9 1426.5,846.1 1419.8,846.1 1423.2,840.4 1419.8,834.6 1426.5,834.6" fill="none" stroke="#8cff00" stroke-width="3.6"/><polygon points="1459.3,831.3 1462.7,837.0 1469.3,837.0 1466.0,842.8 1469.3,848.5 1462.7,848.5 1459.3,854.3 1456.0,848.5 1449.4,848.5 1452.7,842.8 1449.4,837.0 1456.0,837.0" fill="none" stroke="#8cff00" stroke-width="3.6"/><polygon points="1488.9,852.0 1492.2,857.8 1498.8,857.8 1495.5,863.5 1498.8,869.2 1492.2,869.2 1488.9,875.0 1485.5,869.2 1478.9,869.2 1482.2,863.5 1478.9,857.8 1485.5,857.8" fill="none" stroke="#8cff00" stroke-width="3.6"/><polygon points="1518.4,888.5 1521.7,894.2 1528.4,894.2 1525.0,900.0 1528.4,905.8 1521.7,905.8 1518.4,911.5 1515.1,905.8 1508.4,905.8 1511.8,900.0 1508.4,894.2 1515.1,894.2" fill="none" stroke="#8cff00" stroke-width="3.6"/><polygon points="1547.9,945.5 1551.2,951.2 1557.9,951.2 1554.6,957.0 1557.9,962.8 1551.2,962.8 1547.9,968.5 1544.6,962.8 1538.0,962.8 1541.3,957.0 1538.0,951.2 1544.6,951.2" fill="none" stroke="#8cff00" stroke-width="3.6"/><polygon points="1577.5,935.5 1580.8,941.2 1587.4,941.2 1584.1,947.0 1587.4,952.8 1580.8,952.8 1577.5,958.5 1574.1,952.8 1567.5,952.8 1570.8,947.0 1567.5,941.2 1574.1,941.2" fill="none" stroke="#8cff00" stroke-width="3.6"/><polygon points="1607.0,997.5 1610.3,1003.2 1616.9,1003.2 1613.6,1009.0 1616.9,1014.8 1610.3,1014.8 1607.0,1020.5 1603.7,1014.8 1597.0,1014.8 1600.3,1009.0 1597.0,1003.2 1603.7,1003.2" fill="none" stroke="#8cff00" stroke-width="3.6"/><polygon points="1636.5,1020.5 1639.8,1026.2 1646.5,1026.2 1643.2,1032.0 1646.5,1037.8 1639.8,1037.8 1636.5,1043.5 1633.2,1037.8 1626.6,1037.8 1629.9,1032.0 1626.6,1026.2 1633.2,1026.2" fill="none" stroke="#8cff00" stroke-width="3.6"/><polygon points="1666.0,1008.5 1669.4,1014.2 1676.0,1014.2 1672.7,1020.0 1676.0,1025.8 1669.4,1025.8 1666.0,1031.5 1662.7,1025.8 1656.1,1025.8 1659.4,1020.0 1656.1,1014.2 1662.7,1014.2" fill="none" stroke="#8cff00" stroke-width="3.6"/><polygon points="1695.6,1017.9 1698.9,1023.7 1705.5,1023.7 1702.2,1029.4 1705.5,1035.2 1698.9,1035.2 1695.6,1040.9 1692.3,1035.2 1685.6,1035.2 1688.9,1029.4 1685.6,1023.7 1692.3,1023.7" fill="none" stroke="#8cff00" stroke-width="3.6"/><polygon points="1725.1,995.0 1728.4,1000.8 1735.1,1000.8 1731.7,1006.5 1735.1,1012.2 1728.4,1012.2 1725.1,1018.0 1721.8,1012.2 1715.1,1012.2 1718.5,1006.5 1715.1,1000.8 1721.8,1000.8" fill="none" stroke="#8cff00" stroke-width="3.6"/><polygon points="1754.6,988.3 1758.0,994.0 1764.6,994.0 1761.3,999.8 1764.6,1005.5 1758.0,1005.5 1754.6,1011.3 1751.3,1005.5 1744.7,1005.5 1748.0,999.8 1744.7,994.0 1751.3,994.0" fill="none" stroke="#8cff00" stroke-width="3.6"/><polygon points="1784.2,997.7 1787.5,1003.5 1794.1,1003.5 1790.8,1009.2 1794.1,1015.0 1787.5,1015.0 1784.2,1020.7 1780.8,1015.0 1774.2,1015.0 1777.5,1009.2 1774.2,1003.5 1780.8,1003.5" fill="none" stroke="#8cff00" stroke-width="3.6"/><polygon points="1813.7,964.7 1817.0,970.5 1823.7,970.5 1820.3,976.2 1823.7,982.0 1817.0,982.0 1813.7,987.7 1810.4,982.0 1803.7,982.0 1807.1,976.2 1803.7,970.5 1810.4,970.5" fill="none" stroke="#8cff00" stroke-width="3.6"/></g>
<polyline points="543.9,562.0 573.4,642.3 603.0,744.0 632.5,842.8 662.0,944.0 691.6,1020.0 721.1,1087.9 750.6,1151.8 780.1,1205.9 809.7,1248.1 839.2,1284.8 868.7,1314.0 898.3,1336.5 927.8,1357.2 957.3,1370.5 986.9,1378.4 1016.4,1378.8 1045.9,1372.1 1075.4,1374.1 1105.0,1350.2 1134.5,1317.6 1164.0,1287.9 1193.6,1242.4 1223.1,1182.8 1252.6,1119.6 1282.2,1032.2 1311.7,960.8 1341.2,885.2 1370.7,826.2 1400.3,792.6 1429.8,789.4 1459.3,809.0 1488.9,840.8 1518.4,880.3 1547.9,919.3 1577.5,966.9 1607.0,990.0 1636.5,993.3 1666.0,1018.6 1695.6,1014.6 1725.1,991.3 1754.6,970.3 1784.2,983.2 1813.7,938.9" fill="none" stroke="#0a0a0a" stroke-opacity="0.6" stroke-width="2.5" stroke-linejoin="round"/>
<g><polygon points="543.9,552.0 554.4,572.0 533.4,572.0" fill="none" stroke="#0a0a0a" stroke-width="3.3" stroke-linejoin="miter"/><polygon points="573.4,632.3 583.9,652.3 562.9,652.3" fill="none" stroke="#0a0a0a" stroke-width="3.3" stroke-linejoin="miter"/><polygon points="603.0,734.0 613.5,754.0 592.5,754.0" fill="none" stroke="#0a0a0a" stroke-width="3.3" stroke-linejoin="miter"/><polygon points="632.5,832.8 643.0,852.8 622.0,852.8" fill="none" stroke="#0a0a0a" stroke-width="3.3" stroke-linejoin="miter"/><polygon points="662.0,934.0 672.5,954.0 651.5,954.0" fill="none" stroke="#0a0a0a" stroke-width="3.3" stroke-linejoin="miter"/><polygon points="691.6,1010.0 702.1,1030.0 681.1,1030.0" fill="none" stroke="#0a0a0a" stroke-width="3.3" stroke-linejoin="miter"/><polygon points="721.1,1077.9 731.6,1097.9 710.6,1097.9" fill="none" stroke="#0a0a0a" stroke-width="3.3" stroke-linejoin="miter"/><polygon points="750.6,1141.8 761.1,1161.8 740.1,1161.8" fill="none" stroke="#0a0a0a" stroke-width="3.3" stroke-linejoin="miter"/><polygon points="780.1,1195.9 790.6,1215.9 769.6,1215.9" fill="none" stroke="#0a0a0a" stroke-width="3.3" stroke-linejoin="miter"/><polygon points="809.7,1238.1 820.2,1258.1 799.2,1258.1" fill="none" stroke="#0a0a0a" stroke-width="3.3" stroke-linejoin="miter"/><polygon points="839.2,1274.8 849.7,1294.8 828.7,1294.8" fill="none" stroke="#0a0a0a" stroke-width="3.3" stroke-linejoin="miter"/><polygon points="868.7,1304.0 879.2,1324.0 858.2,1324.0" fill="none" stroke="#0a0a0a" stroke-width="3.3" stroke-linejoin="miter"/><polygon points="898.3,1326.5 908.8,1346.5 887.8,1346.5" fill="none" stroke="#0a0a0a" stroke-width="3.3" stroke-linejoin="miter"/><polygon points="927.8,1347.2 938.3,1367.2 917.3,1367.2" fill="none" stroke="#0a0a0a" stroke-width="3.3" stroke-linejoin="miter"/><polygon points="957.3,1360.5 967.8,1380.5 946.8,1380.5" fill="none" stroke="#0a0a0a" stroke-width="3.3" stroke-linejoin="miter"/><polygon points="986.9,1368.4 997.4,1388.4 976.4,1388.4" fill="none" stroke="#0a0a0a" stroke-width="3.3" stroke-linejoin="miter"/><polygon points="1016.4,1368.8 1026.9,1388.8 1005.9,1388.8" fill="none" stroke="#0a0a0a" stroke-width="3.3" stroke-linejoin="miter"/><polygon points="1045.9,1362.1 1056.4,1382.1 1035.4,1382.1" fill="none" stroke="#0a0a0a" stroke-width="3.3" stroke-linejoin="miter"/><polygon points="1075.4,1364.1 1085.9,1384.1 1064.9,1384.1" fill="none" stroke="#0a0a0a" stroke-width="3.3" stroke-linejoin="miter"/><polygon points="1105.0,1340.2 1115.5,1360.2 1094.5,1360.2" fill="none" stroke="#0a0a0a" stroke-width="3.3" stroke-linejoin="miter"/><polygon points="1134.5,1307.6 1145.0,1327.6 1124.0,1327.6" fill="none" stroke="#0a0a0a" stroke-width="3.3" stroke-linejoin="miter"/><polygon points="1164.0,1277.9 1174.5,1297.9 1153.5,1297.9" fill="none" stroke="#0a0a0a" stroke-width="3.3" stroke-linejoin="miter"/><polygon points="1193.6,1232.4 1204.1,1252.4 1183.1,1252.4" fill="none" stroke="#0a0a0a" stroke-width="3.3" stroke-linejoin="miter"/><polygon points="1223.1,1172.8 1233.6,1192.8 1212.6,1192.8" fill="none" stroke="#0a0a0a" stroke-width="3.3" stroke-linejoin="miter"/><polygon points="1252.6,1109.6 1263.1,1129.6 1242.1,1129.6" fill="none" stroke="#0a0a0a" stroke-width="3.3" stroke-linejoin="miter"/><polygon points="1282.2,1022.2 1292.7,1042.2 1271.7,1042.2" fill="none" stroke="#0a0a0a" stroke-width="3.3" stroke-linejoin="miter"/><polygon points="1311.7,950.8 1322.2,970.8 1301.2,970.8" fill="none" stroke="#0a0a0a" stroke-width="3.3" stroke-linejoin="miter"/><polygon points="1341.2,875.2 1351.7,895.2 1330.7,895.2" fill="none" stroke="#0a0a0a" stroke-width="3.3" stroke-linejoin="miter"/><polygon points="1370.7,816.2 1381.2,836.2 1360.2,836.2" fill="none" stroke="#0a0a0a" stroke-width="3.3" stroke-linejoin="miter"/><polygon points="1400.3,782.6 1410.8,802.6 1389.8,802.6" fill="none" stroke="#0a0a0a" stroke-width="3.3" stroke-linejoin="miter"/><polygon points="1429.8,779.4 1440.3,799.4 1419.3,799.4" fill="none" stroke="#0a0a0a" stroke-width="3.3" stroke-linejoin="miter"/><polygon points="1459.3,799.0 1469.8,819.0 1448.8,819.0" fill="none" stroke="#0a0a0a" stroke-width="3.3" stroke-linejoin="miter"/><polygon points="1488.9,830.8 1499.4,850.8 1478.4,850.8" fill="none" stroke="#0a0a0a" stroke-width="3.3" stroke-linejoin="miter"/><polygon points="1518.4,870.3 1528.9,890.3 1507.9,890.3" fill="none" stroke="#0a0a0a" stroke-width="3.3" stroke-linejoin="miter"/><polygon points="1547.9,909.3 1558.4,929.3 1537.4,929.3" fill="none" stroke="#0a0a0a" stroke-width="3.3" stroke-linejoin="miter"/><polygon points="1577.5,956.9 1588.0,976.9 1567.0,976.9" fill="none" stroke="#0a0a0a" stroke-width="3.3" stroke-linejoin="miter"/><polygon points="1607.0,980.0 1617.5,1000.0 1596.5,1000.0" fill="none" stroke="#0a0a0a" stroke-width="3.3" stroke-linejoin="miter"/><polygon points="1636.5,983.3 1647.0,1003.3 1626.0,1003.3" fill="none" stroke="#0a0a0a" stroke-width="3.3" stroke-linejoin="miter"/><polygon points="1666.0,1008.6 1676.5,1028.6 1655.5,1028.6" fill="none" stroke="#0a0a0a" stroke-width="3.3" stroke-linejoin="miter"/><polygon points="1695.6,1004.6 1706.1,1024.6 1685.1,1024.6" fill="none" stroke="#0a0a0a" stroke-width="3.3" stroke-linejoin="miter"/><polygon points="1725.1,981.3 1735.6,1001.3 1714.6,1001.3" fill="none" stroke="#0a0a0a" stroke-width="3.3" stroke-linejoin="miter"/><polygon points="1754.6,960.3 1765.1,980.3 1744.1,980.3" fill="none" stroke="#0a0a0a" stroke-width="3.3" stroke-linejoin="miter"/><polygon points="1784.2,973.2 1794.7,993.2 1773.7,993.2" fill="none" stroke="#0a0a0a" stroke-width="3.3" stroke-linejoin="miter"/><polygon points="1813.7,928.9 1824.2,948.9 1803.2,948.9" fill="none" stroke="#0a0a0a" stroke-width="3.3" stroke-linejoin="miter"/></g>
<polyline points="543.9,715.7 573.4,800.5 603.0,898.0 632.5,988.7 662.0,1087.5 691.6,1160.4 721.1,1224.7 750.6,1262.7 780.1,1286.0 809.7,1294.0 839.2,1295.0 868.7,1277.0 898.3,1257.3 927.8,1234.6 957.3,1211.8 986.9,1193.8 1016.4,1175.3 1045.9,1159.3 1075.4,1148.6 1105.0,1127.6 1134.5,1107.5 1164.0,1068.6 1193.6,1018.0 1223.1,967.5 1252.6,918.9 1282.2,829.6 1311.7,764.5 1341.2,698.9 1370.7,660.7 1400.3,648.7 1429.8,662.8 1459.3,691.8 1488.9,738.5 1518.4,787.9 1547.9,809.6 1577.5,857.3 1607.0,885.6 1636.5,939.7 1666.0,943.6 1695.6,923.3 1725.1,927.2 1754.6,900.2 1784.2,908.6 1813.7,874.1" fill="none" stroke="#ff00ff" stroke-opacity="0.6" stroke-width="2.5" stroke-linejoin="round"/>
<g><polygon points="533.4,705.7 554.4,705.7 543.9,725.7" fill="none" stroke="#ff00ff" stroke-width="3.3"/><polygon points="562.9,790.5 583.9,790.5 573.4,810.5" fill="none" stroke="#ff00ff" stroke-width="3.3"/><polygon points="592.5,888.0 613.5,888.0 603.0,908.0" fill="none" stroke="#ff00ff" stroke-width="3.3"/><polygon points="622.0,978.7 643.0,978.7 632.5,998.7" fill="none" stroke="#ff00ff" stroke-width="3.3"/><polygon points="651.5,1077.5 672.5,1077.5 662.0,1097.5" fill="none" stroke="#ff00ff" stroke-width="3.3"/><polygon points="681.1,1150.4 702.1,1150.4 691.6,1170.4" fill="none" stroke="#ff00ff" stroke-width="3.3"/><polygon points="710.6,1214.7 731.6,1214.7 721.1,1234.7" fill="none" stroke="#ff00ff" stroke-width="3.3"/><polygon points="740.1,1252.7 761.1,1252.7 750.6,1272.7" fill="none" stroke="#ff00ff" stroke-width="3.3"/><polygon points="769.6,1276.0 790.6,1276.0 780.1,1296.0" fill="none" stroke="#ff00ff" stroke-width="3.3"/><polygon points="799.2,1284.0 820.2,1284.0 809.7,1304.0" fill="none" stroke="#ff00ff" stroke-width="3.3"/><polygon points="828.7,1285.0 849.7,1285.0 839.2,1305.0" fill="none" stroke="#ff00ff" stroke-width="3.3"/><polygon points="858.2,1267.0 879.2,1267.0 868.7,1287.0" fill="none" stroke="#ff00ff" stroke-width="3.3"/><polygon points="887.8,1247.3 908.8,1247.3 898.3,1267.3" fill="none" stroke="#ff00ff" stroke-width="3.3"/><polygon points="917.3,1224.6 938.3,1224.6 927.8,1244.6" fill="none" stroke="#ff00ff" stroke-width="3.3"/><polygon points="946.8,1201.8 967.8,1201.8 957.3,1221.8" fill="none" stroke="#ff00ff" stroke-width="3.3"/><polygon points="976.4,1183.8 997.4,1183.8 986.9,1203.8" fill="none" stroke="#ff00ff" stroke-width="3.3"/><polygon points="1005.9,1165.3 1026.9,1165.3 1016.4,1185.3" fill="none" stroke="#ff00ff" stroke-width="3.3"/><polygon points="1035.4,1149.3 1056.4,1149.3 1045.9,1169.3" fill="none" stroke="#ff00ff" stroke-width="3.3"/><polygon points="1064.9,1138.6 1085.9,1138.6 1075.4,1158.6" fill="none" stroke="#ff00ff" stroke-width="3.3"/><polygon points="1094.5,1117.6 1115.5,1117.6 1105.0,1137.6" fill="none" stroke="#ff00ff" stroke-width="3.3"/><polygon points="1124.0,1097.5 1145.0,1097.5 1134.5,1117.5" fill="none" stroke="#ff00ff" stroke-width="3.3"/><polygon points="1153.5,1058.6 1174.5,1058.6 1164.0,1078.6" fill="none" stroke="#ff00ff" stroke-width="3.3"/><polygon points="1183.1,1008.0 1204.1,1008.0 1193.6,1028.0" fill="none" stroke="#ff00ff" stroke-width="3.3"/><polygon points="1212.6,957.5 1233.6,957.5 1223.1,977.5" fill="none" stroke="#ff00ff" stroke-width="3.3"/><polygon points="1242.1,908.9 1263.1,908.9 1252.6,928.9" fill="none" stroke="#ff00ff" stroke-width="3.3"/><polygon points="1271.7,819.6 1292.7,819.6 1282.2,839.6" fill="none" stroke="#ff00ff" stroke-width="3.3"/><polygon points="1301.2,754.5 1322.2,754.5 1311.7,774.5" fill="none" stroke="#ff00ff" stroke-width="3.3"/><polygon points="1330.7,688.9 1351.7,688.9 1341.2,708.9" fill="none" stroke="#ff00ff" stroke-width="3.3"/><polygon points="1360.2,650.7 1381.2,650.7 1370.7,670.7" fill="none" stroke="#ff00ff" stroke-width="3.3"/><polygon points="1389.8,638.7 1410.8,638.7 1400.3,658.7" fill="none" stroke="#ff00ff" stroke-width="3.3"/><polygon points="1419.3,652.8 1440.3,652.8 1429.8,672.8" fill="none" stroke="#ff00ff" stroke-width="3.3"/><polygon points="1448.8,681.8 1469.8,681.8 1459.3,701.8" fill="none" stroke="#ff00ff" stroke-width="3.3"/><polygon points="1478.4,728.5 1499.4,728.5 1488.9,748.5" fill="none" stroke="#ff00ff" stroke-width="3.3"/><polygon points="1507.9,777.9 1528.9,777.9 1518.4,797.9" fill="none" stroke="#ff00ff" stroke-width="3.3"/><polygon points="1537.4,799.6 1558.4,799.6 1547.9,819.6" fill="none" stroke="#ff00ff" stroke-width="3.3"/><polygon points="1567.0,847.3 1588.0,847.3 1577.5,867.3" fill="none" stroke="#ff00ff" stroke-width="3.3"/><polygon points="1596.5,875.6 1617.5,875.6 1607.0,895.6" fill="none" stroke="#ff00ff" stroke-width="3.3"/><polygon points="1626.0,929.7 1647.0,929.7 1636.5,949.7" fill="none" stroke="#ff00ff" stroke-width="3.3"/><polygon points="1655.5,933.6 1676.5,933.6 1666.0,953.6" fill="none" stroke="#ff00ff" stroke-width="3.3"/><polygon points="1685.1,913.3 1706.1,913.3 1695.6,933.3" fill="none" stroke="#ff00ff" stroke-width="3.3"/><polygon points="1714.6,917.2 1735.6,917.2 1725.1,937.2" fill="none" stroke="#ff00ff" stroke-width="3.3"/><polygon points="1744.1,890.2 1765.1,890.2 1754.6,910.2" fill="none" stroke="#ff00ff" stroke-width="3.3"/><polygon points="1773.7,898.6 1794.7,898.6 1784.2,918.6" fill="none" stroke="#ff00ff" stroke-width="3.3"/><polygon points="1803.2,864.1 1824.2,864.1 1813.7,884.1" fill="none" stroke="#ff00ff" stroke-width="3.3"/></g>
<polyline points="543.9,646.7 573.4,675.0 603.0,742.4 632.5,817.7 662.0,922.8 691.6,1022.4 721.1,1119.0 750.6,1203.6 780.1,1268.7 809.7,1327.3 839.2,1372.9 868.7,1409.8 898.3,1432.2 927.8,1446.3 957.3,1449.0 986.9,1442.4 1016.4,1423.6 1045.9,1393.3 1075.4,1356.1 1105.0,1290.3 1134.5,1226.0 1164.0,1127.1 1193.6,1022.0 1223.1,893.0 1252.6,766.0 1282.2,632.5 1311.7,527.9 1341.2,447.9 1370.7,415.3 1400.3,406.6 1429.8,441.2 1459.3,493.4 1488.9,558.7 1518.4,625.6 1547.9,675.6 1577.5,738.9 1607.0,744.5 1636.5,805.1 1666.0,799.5 1695.6,778.1 1725.1,766.0 1754.6,741.2 1784.2,751.0 1813.7,706.3" fill="none" stroke="#0a0a8c" stroke-opacity="0.6" stroke-width="2.5" stroke-linejoin="round"/>
<g><polygon points="543.9,635.2 547.2,641.0 553.9,641.0 550.5,646.7 553.9,652.5 547.2,652.5 543.9,658.2 540.6,652.5 533.9,652.5 537.3,646.7 533.9,641.0 540.6,641.0" fill="none" stroke="#0a0a8c" stroke-width="3.6"/><polygon points="573.4,663.5 576.8,669.2 583.4,669.2 580.1,675.0 583.4,680.8 576.8,680.8 573.4,686.5 570.1,680.8 563.5,680.8 566.8,675.0 563.5,669.2 570.1,669.2" fill="none" stroke="#0a0a8c" stroke-width="3.6"/><polygon points="603.0,730.9 606.3,736.6 612.9,736.6 609.6,742.4 612.9,748.1 606.3,748.1 603.0,753.9 599.6,748.1 593.0,748.1 596.3,742.4 593.0,736.6 599.6,736.6" fill="none" stroke="#0a0a8c" stroke-width="3.6"/><polygon points="632.5,806.2 635.8,812.0 642.5,812.0 639.1,817.7 642.5,823.5 635.8,823.5 632.5,829.2 629.2,823.5 622.5,823.5 625.9,817.7 622.5,812.0 629.2,812.0" fill="none" stroke="#0a0a8c" stroke-width="3.6"/><polygon points="662.0,911.3 665.3,917.0 672.0,917.0 668.7,922.8 672.0,928.5 665.3,928.5 662.0,934.3 658.7,928.5 652.1,928.5 655.4,922.8 652.1,917.0 658.7,917.0" fill="none" stroke="#0a0a8c" stroke-width="3.6"/><polygon points="691.6,1010.9 694.9,1016.6 701.5,1016.6 698.2,1022.4 701.5,1028.1 694.9,1028.2 691.6,1033.9 688.2,1028.2 681.6,1028.1 684.9,1022.4 681.6,1016.6 688.2,1016.6" fill="none" stroke="#0a0a8c" stroke-width="3.6"/><polygon points="721.1,1107.5 724.4,1113.2 731.0,1113.2 727.7,1119.0 731.0,1124.8 724.4,1124.8 721.1,1130.5 717.8,1124.8 711.1,1124.8 714.4,1119.0 711.1,1113.2 717.8,1113.2" fill="none" stroke="#0a0a8c" stroke-width="3.6"/><polygon points="750.6,1192.1 753.9,1197.8 760.6,1197.8 757.3,1203.6 760.6,1209.3 753.9,1209.3 750.6,1215.1 747.3,1209.3 740.7,1209.3 744.0,1203.6 740.7,1197.8 747.3,1197.8" fill="none" stroke="#0a0a8c" stroke-width="3.6"/><polygon points="780.1,1257.2 783.5,1263.0 790.1,1263.0 786.8,1268.7 790.1,1274.5 783.5,1274.5 780.1,1280.2 776.8,1274.5 770.2,1274.5 773.5,1268.7 770.2,1263.0 776.8,1263.0" fill="none" stroke="#0a0a8c" stroke-width="3.6"/><polygon points="809.7,1315.8 813.0,1321.5 819.6,1321.5 816.3,1327.3 819.6,1333.0 813.0,1333.0 809.7,1338.8 806.4,1333.0 799.7,1333.0 803.0,1327.3 799.7,1321.5 806.4,1321.5" fill="none" stroke="#0a0a8c" stroke-width="3.6"/><polygon points="839.2,1361.4 842.5,1367.2 849.2,1367.2 845.8,1372.9 849.2,1378.7 842.5,1378.7 839.2,1384.4 835.9,1378.7 829.2,1378.7 832.6,1372.9 829.2,1367.2 835.9,1367.2" fill="none" stroke="#0a0a8c" stroke-width="3.6"/><polygon points="868.7,1398.3 872.1,1404.0 878.7,1404.0 875.4,1409.8 878.7,1415.5 872.1,1415.5 868.7,1421.3 865.4,1415.5 858.8,1415.5 862.1,1409.8 858.8,1404.0 865.4,1404.0" fill="none" stroke="#0a0a8c" stroke-width="3.6"/><polygon points="898.3,1420.7 901.6,1426.5 908.2,1426.5 904.9,1432.2 908.2,1438.0 901.6,1438.0 898.3,1443.7 894.9,1438.0 888.3,1438.0 891.6,1432.2 888.3,1426.5 894.9,1426.5" fill="none" stroke="#0a0a8c" stroke-width="3.6"/><polygon points="927.8,1434.8 931.1,1440.5 937.8,1440.5 934.4,1446.3 937.8,1452.0 931.1,1452.0 927.8,1457.8 924.5,1452.0 917.8,1452.0 921.2,1446.3 917.8,1440.5 924.5,1440.5" fill="none" stroke="#0a0a8c" stroke-width="3.6"/><polygon points="957.3,1437.5 960.6,1443.2 967.3,1443.2 964.0,1449.0 967.3,1454.8 960.6,1454.8 957.3,1460.5 954.0,1454.8 947.4,1454.8 950.7,1449.0 947.4,1443.2 954.0,1443.2" fill="none" stroke="#0a0a8c" stroke-width="3.6"/><polygon points="986.9,1430.9 990.2,1436.7 996.8,1436.7 993.5,1442.4 996.8,1448.2 990.2,1448.2 986.9,1453.9 983.5,1448.2 976.9,1448.2 980.2,1442.4 976.9,1436.7 983.5,1436.7" fill="none" stroke="#0a0a8c" stroke-width="3.6"/><polygon points="1016.4,1412.1 1019.7,1417.8 1026.3,1417.8 1023.0,1423.6 1026.3,1429.3 1019.7,1429.3 1016.4,1435.1 1013.1,1429.3 1006.4,1429.3 1009.7,1423.6 1006.4,1417.8 1013.1,1417.8" fill="none" stroke="#0a0a8c" stroke-width="3.6"/><polygon points="1045.9,1381.8 1049.2,1387.5 1055.9,1387.5 1052.6,1393.3 1055.9,1399.0 1049.2,1399.0 1045.9,1404.8 1042.6,1399.0 1036.0,1399.0 1039.3,1393.3 1036.0,1387.5 1042.6,1387.5" fill="none" stroke="#0a0a8c" stroke-width="3.6"/><polygon points="1075.4,1344.6 1078.8,1350.3 1085.4,1350.3 1082.1,1356.1 1085.4,1361.8 1078.8,1361.8 1075.4,1367.6 1072.1,1361.8 1065.5,1361.8 1068.8,1356.1 1065.5,1350.3 1072.1,1350.3" fill="none" stroke="#0a0a8c" stroke-width="3.6"/><polygon points="1105.0,1278.8 1108.3,1284.5 1114.9,1284.5 1111.6,1290.3 1114.9,1296.0 1108.3,1296.0 1105.0,1301.8 1101.7,1296.0 1095.0,1296.0 1098.3,1290.3 1095.0,1284.5 1101.7,1284.5" fill="none" stroke="#0a0a8c" stroke-width="3.6"/><polygon points="1134.5,1214.5 1137.8,1220.2 1144.5,1220.2 1141.1,1226.0 1144.5,1231.8 1137.8,1231.8 1134.5,1237.5 1131.2,1231.8 1124.5,1231.8 1127.9,1226.0 1124.5,1220.2 1131.2,1220.2" fill="none" stroke="#0a0a8c" stroke-width="3.6"/><polygon points="1164.0,1115.6 1167.4,1121.3 1174.0,1121.3 1170.7,1127.1 1174.0,1132.8 1167.4,1132.8 1164.0,1138.6 1160.7,1132.8 1154.1,1132.8 1157.4,1127.1 1154.1,1121.3 1160.7,1121.3" fill="none" stroke="#0a0a8c" stroke-width="3.6"/><polygon points="1193.6,1010.5 1196.9,1016.2 1203.5,1016.2 1200.2,1022.0 1203.5,1027.8 1196.9,1027.8 1193.6,1033.5 1190.2,1027.8 1183.6,1027.8 1186.9,1022.0 1183.6,1016.2 1190.2,1016.2" fill="none" stroke="#0a0a8c" stroke-width="3.6"/><polygon points="1223.1,881.5 1226.4,887.2 1233.1,887.2 1229.7,893.0 1233.1,898.8 1226.4,898.8 1223.1,904.5 1219.8,898.8 1213.1,898.8 1216.5,893.0 1213.1,887.2 1219.8,887.2" fill="none" stroke="#0a0a8c" stroke-width="3.6"/><polygon points="1252.6,754.5 1255.9,760.2 1262.6,760.2 1259.3,766.0 1262.6,771.8 1255.9,771.8 1252.6,777.5 1249.3,771.8 1242.7,771.8 1246.0,766.0 1242.7,760.2 1249.3,760.2" fill="none" stroke="#0a0a8c" stroke-width="3.6"/><polygon points="1282.2,621.0 1285.5,626.8 1292.1,626.8 1288.8,632.5 1292.1,638.2 1285.5,638.2 1282.2,644.0 1278.8,638.2 1272.2,638.2 1275.5,632.5 1272.2,626.8 1278.8,626.8" fill="none" stroke="#0a0a8c" stroke-width="3.6"/><polygon points="1311.7,516.4 1315.0,522.1 1321.6,522.1 1318.3,527.9 1321.6,533.6 1315.0,533.6 1311.7,539.4 1308.4,533.6 1301.7,533.6 1305.0,527.9 1301.7,522.1 1308.4,522.1" fill="none" stroke="#0a0a8c" stroke-width="3.6"/><polygon points="1341.2,436.4 1344.5,442.1 1351.2,442.1 1347.9,447.9 1351.2,453.6 1344.5,453.6 1341.2,459.4 1337.9,453.6 1331.3,453.6 1334.6,447.9 1331.3,442.1 1337.9,442.1" fill="none" stroke="#0a0a8c" stroke-width="3.6"/><polygon points="1370.7,403.8 1374.1,409.6 1380.7,409.6 1377.4,415.3 1380.7,421.1 1374.1,421.1 1370.7,426.8 1367.4,421.1 1360.8,421.1 1364.1,415.3 1360.8,409.6 1367.4,409.6" fill="none" stroke="#0a0a8c" stroke-width="3.6"/><polygon points="1400.3,395.1 1403.6,400.9 1410.2,400.9 1406.9,406.6 1410.2,412.4 1403.6,412.4 1400.3,418.1 1397.0,412.4 1390.3,412.4 1393.6,406.6 1390.3,400.9 1397.0,400.9" fill="none" stroke="#0a0a8c" stroke-width="3.6"/><polygon points="1429.8,429.7 1433.1,435.4 1439.8,435.4 1436.4,441.2 1439.8,446.9 1433.1,446.9 1429.8,452.7 1426.5,446.9 1419.8,446.9 1423.2,441.2 1419.8,435.4 1426.5,435.4" fill="none" stroke="#0a0a8c" stroke-width="3.6"/><polygon points="1459.3,481.9 1462.7,487.6 1469.3,487.6 1466.0,493.4 1469.3,499.1 1462.7,499.1 1459.3,504.9 1456.0,499.1 1449.4,499.1 1452.7,493.4 1449.4,487.6 1456.0,487.6" fill="none" stroke="#0a0a8c" stroke-width="3.6"/><polygon points="1488.9,547.2 1492.2,553.0 1498.8,553.0 1495.5,558.7 1498.8,564.5 1492.2,564.5 1488.9,570.2 1485.5,564.5 1478.9,564.5 1482.2,558.7 1478.9,553.0 1485.5,553.0" fill="none" stroke="#0a0a8c" stroke-width="3.6"/><polygon points="1518.4,614.1 1521.7,619.9 1528.4,619.9 1525.0,625.6 1528.4,631.4 1521.7,631.4 1518.4,637.1 1515.1,631.4 1508.4,631.4 1511.8,625.6 1508.4,619.9 1515.1,619.9" fill="none" stroke="#0a0a8c" stroke-width="3.6"/><polygon points="1547.9,664.1 1551.2,669.9 1557.9,669.9 1554.6,675.6 1557.9,681.4 1551.2,681.4 1547.9,687.1 1544.6,681.4 1538.0,681.4 1541.3,675.6 1538.0,669.9 1544.6,669.9" fill="none" stroke="#0a0a8c" stroke-width="3.6"/><polygon points="1577.5,727.4 1580.8,733.1 1587.4,733.1 1584.1,738.9 1587.4,744.6 1580.8,744.6 1577.5,750.4 1574.1,744.6 1567.5,744.6 1570.8,738.9 1567.5,733.1 1574.1,733.1" fill="none" stroke="#0a0a8c" stroke-width="3.6"/><polygon points="1607.0,733.0 1610.3,738.8 1616.9,738.8 1613.6,744.5 1616.9,750.2 1610.3,750.2 1607.0,756.0 1603.7,750.2 1597.0,750.2 1600.3,744.5 1597.0,738.8 1603.7,738.8" fill="none" stroke="#0a0a8c" stroke-width="3.6"/><polygon points="1636.5,793.6 1639.8,799.4 1646.5,799.4 1643.2,805.1 1646.5,810.9 1639.8,810.9 1636.5,816.6 1633.2,810.9 1626.6,810.9 1629.9,805.1 1626.6,799.4 1633.2,799.4" fill="none" stroke="#0a0a8c" stroke-width="3.6"/><polygon points="1666.0,788.0 1669.4,793.8 1676.0,793.8 1672.7,799.5 1676.0,805.2 1669.4,805.2 1666.0,811.0 1662.7,805.2 1656.1,805.2 1659.4,799.5 1656.1,793.8 1662.7,793.8" fill="none" stroke="#0a0a8c" stroke-width="3.6"/><polygon points="1695.6,766.6 1698.9,772.4 1705.5,772.4 1702.2,778.1 1705.5,783.9 1698.9,783.9 1695.6,789.6 1692.3,783.9 1685.6,783.9 1688.9,778.1 1685.6,772.4 1692.3,772.4" fill="none" stroke="#0a0a8c" stroke-width="3.6"/><polygon points="1725.1,754.5 1728.4,760.2 1735.1,760.2 1731.7,766.0 1735.1,771.8 1728.4,771.8 1725.1,777.5 1721.8,771.8 1715.1,771.8 1718.5,766.0 1715.1,760.2 1721.8,760.2" fill="none" stroke="#0a0a8c" stroke-width="3.6"/><polygon points="1754.6,729.7 1758.0,735.5 1764.6,735.5 1761.3,741.2 1764.6,747.0 1758.0,747.0 1754.6,752.7 1751.3,747.0 1744.7,747.0 1748.0,741.2 1744.7,735.5 1751.3,735.5" fill="none" stroke="#0a0a8c" stroke-width="3.6"/><polygon points="1784.2,739.5 1787.5,745.2 1794.1,745.2 1790.8,751.0 1794.1,756.8 1787.5,756.8 1784.2,762.5 1780.8,756.8 1774.2,756.8 1777.5,751.0 1774.2,745.2 1780.8,745.2" fill="none" stroke="#0a0a8c" stroke-width="3.6"/><polygon points="1813.7,694.8 1817.0,700.5 1823.7,700.5 1820.3,706.3 1823.7,712.0 1817.0,712.0 1813.7,717.8 1810.4,712.0 1803.7,712.0 1807.1,706.3 1803.7,700.5 1810.4,700.5" fill="none" stroke="#0a0a8c" stroke-width="3.6"/></g>
<path d="M337.5,68.5V1904M276.0,1843.0H2111.8M276,71.0H337.5M306,197.6H337.5M276,324.1H337.5M306,450.7H337.5M276,577.3H337.5M306,703.8H337.5M276,830.4H337.5M306,957.0H337.5M276,1083.6H337.5M306,1210.1H337.5M276,1336.7H337.5M306,1463.3H337.5M276,1589.8H337.5M306,1716.4H337.5M276,1843.0H337.5M337.5,1843.0V1904M426.4,1843.0V1874.5M478.4,1843.0V1874.5M515.3,1843.0V1874.5M543.9,1843.0V1874.5M567.3,1843.0V1874.5M587.1,1843.0V1874.5M604.2,1843.0V1874.5M619.3,1843.0V1874.5M632.8,1843.0V1904M721.7,1843.0V1874.5M773.7,1843.0V1874.5M810.6,1843.0V1874.5M839.2,1843.0V1874.5M862.6,1843.0V1874.5M882.4,1843.0V1874.5M899.5,1843.0V1874.5M914.6,1843.0V1874.5M928.1,1843.0V1904M1017.0,1843.0V1874.5M1069.0,1843.0V1874.5M1105.9,1843.0V1874.5M1134.5,1843.0V1874.5M1157.9,1843.0V1874.5M1177.7,1843.0V1874.5M1194.8,1843.0V1874.5M1209.9,1843.0V1874.5M1223.4,1843.0V1904M1312.3,1843.0V1874.5M1364.3,1843.0V1874.5M1401.2,1843.0V1874.5M1429.8,1843.0V1874.5M1453.2,1843.0V1874.5M1473.0,1843.0V1874.5M1490.1,1843.0V1874.5M1505.2,1843.0V1874.5M1518.7,1843.0V1904M1607.6,1843.0V1874.5M1659.6,1843.0V1874.5M1696.5,1843.0V1874.5M1725.1,1843.0V1874.5M1748.5,1843.0V1874.5M1768.3,1843.0V1874.5M1785.4,1843.0V1874.5M1800.5,1843.0V1874.5M1814.0,1843.0V1904M1902.9,1843.0V1874.5M1954.9,1843.0V1874.5M1991.8,1843.0V1874.5M2020.4,1843.0V1874.5M2043.8,1843.0V1874.5M2063.6,1843.0V1874.5M2080.7,1843.0V1874.5M2095.8,1843.0V1874.5M2109.3,1843.0V1904" stroke="#111" stroke-width="5" fill="none"/>
<rect x="362.3" y="105.6" width="778.2" height="441" fill="#fff" stroke="#555" stroke-width="2.7"/>
<rect x="1503.5" y="142" width="550.3" height="386.7" fill="#fff" stroke="#5e5e5e" stroke-width="2.8"/>
<path d="M1544.6,235.1H1696.5" stroke="#05703c" stroke-opacity="0.6" stroke-width="3.2"/>
<polygon points="1619.8,215.8 1643.7,254.4 1595.9,254.4" fill="none" stroke="#05703c" stroke-width="5.0" stroke-linejoin="miter"/>
<path d="M1544.6,342.7H1696.5" stroke="#006633" stroke-opacity="0.6" stroke-width="3.2"/>
<path d="M1592.8,342.7H1646.8M1619.8,315.7V369.7" stroke="#006633" stroke-width="6.0"/>
<path d="M1544.6,451.2H1696.5" stroke="#ff6a0a" stroke-opacity="0.6" stroke-width="3.2"/>
<polygon points="1595.9,431.0 1643.7,431.0 1619.8,471.4" fill="none" stroke="#ff6a0a" stroke-width="5.0"/>
<rect x="1482.5" y="1106.5" width="551" height="601.7" fill="#fff" stroke="#5e5e5e" stroke-width="2.8"/>
<path d="M1523.7,1198.1H1673.7" stroke="#9a00cc" stroke-opacity="0.6" stroke-width="3.2"/>
<rect x="1575.3" y="1173.8" width="48.6" height="48.6" fill="none" stroke="#9a00cc" stroke-width="5.0"/>
<path d="M1523.7,1307.5H1673.7" stroke="#8cff00" stroke-opacity="0.6" stroke-width="3.2"/>
<polygon points="1599.6,1283.3 1606.6,1295.4 1620.6,1295.4 1613.6,1307.5 1620.6,1319.6 1606.6,1319.6 1599.6,1331.7 1592.6,1319.6 1578.6,1319.6 1585.6,1307.5 1578.6,1295.4 1592.6,1295.4" fill="none" stroke="#8cff00" stroke-width="3.6"/>
<path d="M1523.7,1415.3H1673.7" stroke="#0a0a0a" stroke-opacity="0.6" stroke-width="3.2"/>
<polygon points="1599.6,1396.0 1623.5,1434.6 1575.7,1434.6" fill="none" stroke="#0a0a0a" stroke-width="5.0" stroke-linejoin="miter"/>
<path d="M1523.7,1524.2H1673.7" stroke="#ff00ff" stroke-opacity="0.6" stroke-width="3.2"/>
<polygon points="1575.7,1504.0 1623.5,1504.0 1599.6,1544.4" fill="none" stroke="#ff00ff" stroke-width="5.0"/>
<path d="M1523.7,1633.3H1673.7" stroke="#0a0a8c" stroke-opacity="0.6" stroke-width="3.2"/>
<polygon points="1599.6,1609.1 1606.6,1621.2 1620.6,1621.2 1613.6,1633.3 1620.6,1645.4 1606.6,1645.4 1599.6,1657.5 1592.6,1645.4 1578.6,1645.4 1585.6,1633.3 1578.6,1621.2 1592.6,1621.2" fill="none" stroke="#0a0a8c" stroke-width="3.6"/>
<g font-family="Liberation Serif, 'Times New Roman', serif" stroke="#fff" stroke-width="1.0" paint-order="normal">
<text x="128.48" y="101.50" font-size="91.90" textLength="29.66" lengthAdjust="spacingAndGlyphs" fill="#000" stroke="#000" stroke-width="1.3">-</text>
<text x="156.55" y="98.60" font-size="91.90" textLength="90.00" lengthAdjust="spacingAndGlyphs" fill="#000">76</text>
<text x="128.48" y="354.64" font-size="91.90" textLength="29.66" lengthAdjust="spacingAndGlyphs" fill="#000" stroke="#000" stroke-width="1.3">-</text>
<text x="156.49" y="351.74" font-size="91.90" textLength="91.00" lengthAdjust="spacingAndGlyphs" fill="#000">78</text>
<text x="128.48" y="607.78" font-size="91.90" textLength="29.66" lengthAdjust="spacingAndGlyphs" fill="#000" stroke="#000" stroke-width="1.3">-</text>
<text x="159.32" y="604.88" font-size="91.90" textLength="88.06" lengthAdjust="spacingAndGlyphs" fill="#000">80</text>
<text x="128.48" y="860.92" font-size="91.90" textLength="29.66" lengthAdjust="spacingAndGlyphs" fill="#000" stroke="#000" stroke-width="1.3">-</text>
<text x="159.25" y="858.02" font-size="91.90" textLength="90.00" lengthAdjust="spacingAndGlyphs" fill="#000">82</text>
<text x="128.48" y="1114.06" font-size="91.90" textLength="29.66" lengthAdjust="spacingAndGlyphs" fill="#000" stroke="#000" stroke-width="1.3">-</text>
<text x="159.38" y="1111.16" font-size="91.90" textLength="86.21" lengthAdjust="spacingAndGlyphs" fill="#000">84</text>
<text x="128.48" y="1367.20" font-size="91.90" textLength="29.66" lengthAdjust="spacingAndGlyphs" fill="#000" stroke="#000" stroke-width="1.3">-</text>
<text x="159.35" y="1364.30" font-size="91.90" textLength="87.13" lengthAdjust="spacingAndGlyphs" fill="#000">86</text>
<text x="128.48" y="1620.34" font-size="91.90" textLength="29.66" lengthAdjust="spacingAndGlyphs" fill="#000" stroke="#000" stroke-width="1.3">-</text>
<text x="159.32" y="1617.44" font-size="91.90" textLength="88.06" lengthAdjust="spacingAndGlyphs" fill="#000">88</text>
<text x="128.48" y="1873.48" font-size="91.90" textLength="29.66" lengthAdjust="spacingAndGlyphs" fill="#000" stroke="#000" stroke-width="1.3">-</text>
<text x="159.77" y="1870.58" font-size="91.90" textLength="87.59" lengthAdjust="spacingAndGlyphs" fill="#000">90</text>
<text x="280.88" y="2022.40" font-size="91.20" textLength="87.37" lengthAdjust="spacingAndGlyphs" fill="#000">10</text>
<text x="367.29" y="1979.50" font-size="54.40" textLength="26.11" lengthAdjust="spacingAndGlyphs" fill="#000" stroke-width="0.7">1</text>
<text x="576.18" y="2022.40" font-size="91.20" textLength="87.37" lengthAdjust="spacingAndGlyphs" fill="#000">10</text>
<text x="663.64" y="1979.50" font-size="54.40" textLength="26.11" lengthAdjust="spacingAndGlyphs" fill="#000" stroke-width="0.7">2</text>
<text x="871.48" y="2022.40" font-size="91.20" textLength="87.37" lengthAdjust="spacingAndGlyphs" fill="#000">10</text>
<text x="958.28" y="1979.50" font-size="54.40" textLength="26.11" lengthAdjust="spacingAndGlyphs" fill="#000" stroke-width="0.7">3</text>
<text x="1166.78" y="2022.40" font-size="91.20" textLength="87.37" lengthAdjust="spacingAndGlyphs" fill="#000">10</text>
<text x="1253.84" y="1979.50" font-size="54.40" textLength="26.11" lengthAdjust="spacingAndGlyphs" fill="#000" stroke-width="0.7">4</text>
<text x="1462.08" y="2022.40" font-size="91.20" textLength="87.37" lengthAdjust="spacingAndGlyphs" fill="#000">10</text>
<text x="1548.62" y="1979.50" font-size="54.40" textLength="26.11" lengthAdjust="spacingAndGlyphs" fill="#000" stroke-width="0.7">5</text>
<text x="1757.38" y="2022.40" font-size="91.20" textLength="87.37" lengthAdjust="spacingAndGlyphs" fill="#000">10</text>
<text x="1844.05" y="1979.50" font-size="54.40" textLength="26.11" lengthAdjust="spacingAndGlyphs" fill="#000" stroke-width="0.7">6</text>
<text x="2052.68" y="2022.40" font-size="91.20" textLength="87.37" lengthAdjust="spacingAndGlyphs" fill="#000">10</text>
<text x="2138.70" y="1979.50" font-size="54.40" textLength="26.11" lengthAdjust="spacingAndGlyphs" fill="#000" stroke-width="0.7">7</text>
<text x="1119.82" y="2124.80" font-size="95.60" font-style="italic" textLength="29.75" lengthAdjust="spacingAndGlyphs" fill="#000" stroke-width="2.4">f</text>
<text x="1153.56" y="2124.80" font-size="95.60" textLength="149.27" lengthAdjust="spacingAndGlyphs" fill="#000">, Hz</text>
<g transform="rotate(-90)">
<text x="-1033.97" y="92.00" font-size="88.20" textLength="64.38" lengthAdjust="spacingAndGlyphs" fill="#000" stroke-width="1.4">Θ</text>
<text x="-966.52" y="96.00" font-size="88.20" textLength="22.05" lengthAdjust="spacingAndGlyphs" fill="#000">,</text>
<text x="-923.86" y="110.50" font-size="121.00" textLength="48.50" lengthAdjust="spacingAndGlyphs" fill="#000" stroke="#fff" stroke-width="2.6">°</text>
</g>
<text x="531.18" y="185.70" font-size="94.00" font-weight="bold" textLength="289.89" lengthAdjust="spacingAndGlyphs" fill="#000">Zn-SiO</text>
<text x="816.40" y="207.00" font-size="47.00" textLength="28.77" lengthAdjust="spacingAndGlyphs" fill="#000" stroke-width="0">2</text>
<text x="844.91" y="185.70" font-size="94.00" font-weight="bold" textLength="101.06" lengthAdjust="spacingAndGlyphs" fill="#000">/Si</text>
<text x="393.01" y="277.40" font-size="65.00" font-weight="bold" textLength="259.31" lengthAdjust="spacingAndGlyphs" fill="#000">Ion dose:</text>
<text x="666.85" y="277.40" font-size="65.00" textLength="79.78" lengthAdjust="spacingAndGlyphs" fill="#000">7.5</text>
<text x="765.20" y="272.70" font-size="51.00" textLength="28.54" lengthAdjust="spacingAndGlyphs" fill="#000" stroke-width="0.7">×</text>
<text x="805.82" y="277.40" font-size="65.00" textLength="62.16" lengthAdjust="spacingAndGlyphs" fill="#000">10</text>
<text x="870.46" y="256.40" font-size="36.90" textLength="34.61" lengthAdjust="spacingAndGlyphs" fill="#000" stroke-width="0">16</text>
<text x="918.29" y="277.40" font-size="65.00" textLength="181.44" lengthAdjust="spacingAndGlyphs" fill="#000">ion/cm</text>
<text x="1100.78" y="256.70" font-size="37.40" textLength="19.01" lengthAdjust="spacingAndGlyphs" fill="#000" stroke-width="0">2</text>
<text x="461.53" y="348.70" font-size="65.00" font-weight="bold" textLength="322.24" lengthAdjust="spacingAndGlyphs" fill="#000">Ion energy:</text>
<text x="801.54" y="348.70" font-size="65.00" textLength="219.42" lengthAdjust="spacingAndGlyphs" fill="#000">150 keV</text>
<text x="591.80" y="429.80" font-size="75.70" font-style="italic" textLength="42.79" lengthAdjust="spacingAndGlyphs" fill="#000">T</text>
<text x="633.22" y="445.10" font-size="38.50" textLength="71.07" lengthAdjust="spacingAndGlyphs" fill="#000" stroke-width="0">impl</text>
<text x="703.06" y="429.80" font-size="66.00" textLength="205.12" lengthAdjust="spacingAndGlyphs" fill="#000">=773 K</text>
<text x="447.27" y="521.50" font-size="66.70" font-style="italic" textLength="38.78" lengthAdjust="spacingAndGlyphs" fill="#000">T</text>
<text x="482.22" y="534.60" font-size="38.00" textLength="18.75" lengthAdjust="spacingAndGlyphs" fill="#000" stroke-width="0">a</text>
<text x="497.58" y="521.50" font-size="65.00" textLength="220.65" lengthAdjust="spacingAndGlyphs" fill="#000">=973 K,</text>
<text x="733.92" y="521.50" font-size="65.00" font-style="italic" textLength="14.43" lengthAdjust="spacingAndGlyphs" fill="#000">t</text>
<text x="748.03" y="521.50" font-size="65.00" textLength="325.10" lengthAdjust="spacingAndGlyphs" fill="#000">=60 min, air</text>
<text x="1737.41" y="251.60" font-size="75.30" font-style="italic" textLength="41.88" lengthAdjust="spacingAndGlyphs" fill="#000">T</text>
<text x="1776.69" y="268.90" font-size="47.20" textLength="23.60" lengthAdjust="spacingAndGlyphs" fill="#000" stroke-width="0.7">p</text>
<text x="1797.11" y="251.60" font-size="75.30" textLength="190.97" lengthAdjust="spacingAndGlyphs" fill="#000">=73 K</text>
<text x="1737.41" y="361.30" font-size="75.30" font-style="italic" textLength="41.88" lengthAdjust="spacingAndGlyphs" fill="#000">T</text>
<text x="1776.69" y="378.60" font-size="47.20" textLength="23.60" lengthAdjust="spacingAndGlyphs" fill="#000" stroke-width="0.7">p</text>
<text x="1797.11" y="361.30" font-size="75.30" textLength="190.97" lengthAdjust="spacingAndGlyphs" fill="#000">=97 K</text>
<text x="1737.41" y="469.30" font-size="75.30" font-style="italic" textLength="41.88" lengthAdjust="spacingAndGlyphs" fill="#000">T</text>
<text x="1776.69" y="486.60" font-size="47.20" textLength="23.60" lengthAdjust="spacingAndGlyphs" fill="#000" stroke-width="0.7">p</text>
<text x="1797.11" y="469.30" font-size="75.30" textLength="228.62" lengthAdjust="spacingAndGlyphs" fill="#000">=121 K</text>
<text x="1715.01" y="1215.40" font-size="75.30" font-style="italic" textLength="41.88" lengthAdjust="spacingAndGlyphs" fill="#000">T</text>
<text x="1755.69" y="1232.70" font-size="47.20" textLength="23.60" lengthAdjust="spacingAndGlyphs" fill="#000" stroke-width="0.7">p</text>
<text x="1776.21" y="1215.40" font-size="75.30" textLength="228.62" lengthAdjust="spacingAndGlyphs" fill="#000">=145 K</text>
<text x="1715.01" y="1324.40" font-size="75.30" font-style="italic" textLength="41.88" lengthAdjust="spacingAndGlyphs" fill="#000">T</text>
<text x="1755.69" y="1341.70" font-size="47.20" textLength="23.60" lengthAdjust="spacingAndGlyphs" fill="#000" stroke-width="0.7">p</text>
<text x="1776.21" y="1324.40" font-size="75.30" textLength="228.62" lengthAdjust="spacingAndGlyphs" fill="#000">=193 K</text>
<text x="1715.01" y="1433.20" font-size="75.30" font-style="italic" textLength="41.88" lengthAdjust="spacingAndGlyphs" fill="#000">T</text>
<text x="1755.69" y="1450.50" font-size="47.20" textLength="23.60" lengthAdjust="spacingAndGlyphs" fill="#000" stroke-width="0.7">p</text>
<text x="1776.21" y="1433.20" font-size="75.30" textLength="228.62" lengthAdjust="spacingAndGlyphs" fill="#000">=249 K</text>
<text x="1715.01" y="1542.10" font-size="75.30" font-style="italic" textLength="41.88" lengthAdjust="spacingAndGlyphs" fill="#000">T</text>
<text x="1755.69" y="1559.40" font-size="47.20" textLength="23.60" lengthAdjust="spacingAndGlyphs" fill="#000" stroke-width="0.7">p</text>
<text x="1776.21" y="1542.10" font-size="75.30" textLength="228.62" lengthAdjust="spacingAndGlyphs" fill="#000">=291 K</text>
<text x="1715.01" y="1651.00" font-size="75.30" font-style="italic" textLength="41.88" lengthAdjust="spacingAndGlyphs" fill="#000">T</text>
<text x="1755.69" y="1668.30" font-size="47.20" textLength="23.60" lengthAdjust="spacingAndGlyphs" fill="#000" stroke-width="0.7">p</text>
<text x="1776.21" y="1651.00" font-size="75.30" textLength="228.62" lengthAdjust="spacingAndGlyphs" fill="#000">=333 K</text>
</g>
</svg>
</div></body></html>
